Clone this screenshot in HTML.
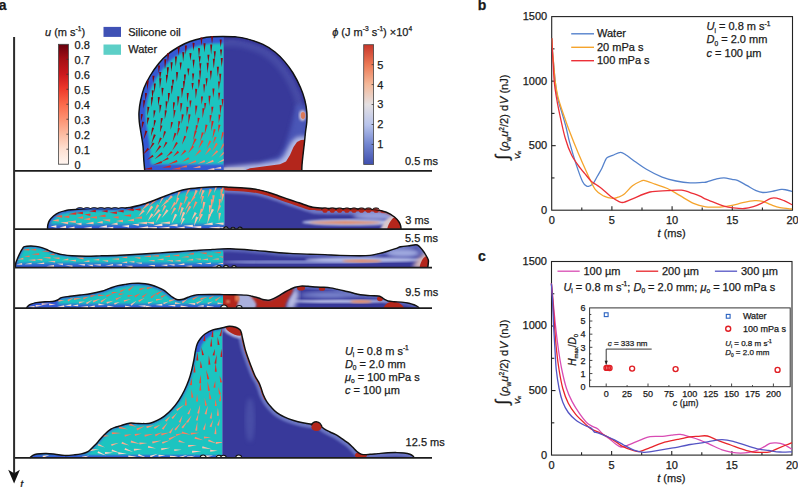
<!DOCTYPE html>
<html><head><meta charset="utf-8"><title>figure</title>
<style>
html,body{margin:0;padding:0;background:#fff;width:798px;height:487px;overflow:hidden}
svg{display:block}
text{font-family:"Liberation Sans",sans-serif;fill:#1a1a1a;stroke:#1a1a1a;stroke-width:0.25px}
</style></head><body>
<svg width="798" height="487" viewBox="0 0 798 487">
<defs><clipPath id="clipB"><rect x="551.7" y="16.6" width="240.8" height="193.6"/></clipPath></defs>
<defs>
<filter id="bl1" x="-10%" y="-10%" width="120%" height="120%"><feGaussianBlur stdDeviation="1.2"/></filter>
<filter id="bl2" x="-10%" y="-10%" width="120%" height="120%"><feGaussianBlur stdDeviation="2"/></filter>
<clipPath id="cp0"><path d="M144.8 170.9 C144.63 169.08 144.1 164.15 143.8 160 C143.5 155.85 143.47 150.5 143 146 C142.53 141.5 141.62 137 141 133 C140.38 129 139.63 125.5 139.3 122 C138.97 118.5 138.8 115.5 139 112 C139.2 108.5 139.67 105 140.5 101 C141.33 97 142.42 92.17 144 88 C145.58 83.83 147.55 80.08 150 76 C152.45 71.92 155.7 67.17 158.7 63.5 C161.7 59.83 164.4 56.92 168 54 C171.6 51.08 176.63 48.08 180.3 46 C183.97 43.92 186.42 42.8 190 41.5 C193.58 40.2 198.13 38.98 201.8 38.2 C205.47 37.42 208.47 37.1 212 36.8 C215.53 36.5 219.17 36.4 223 36.4 C226.83 36.4 231.17 36.43 235 36.8 C238.83 37.17 241.33 37.33 246 38.6 C250.67 39.87 258.17 42.17 263 44.4 C267.83 46.63 271.38 49.13 275 52 C278.62 54.87 281.7 58.1 284.7 61.6 C287.7 65.1 290.37 68.68 293 73 C295.63 77.32 298.53 83 300.5 87.5 C302.47 92 303.75 95.92 304.8 100 C305.85 104.08 306.47 108.33 306.8 112 C307.13 115.67 307.02 118.67 306.8 122 C306.58 125.33 305.88 128.67 305.5 132 C305.12 135.33 304.92 138.17 304.5 142 C304.08 145.83 303.42 151.17 303 155 C302.58 158.83 302.2 162.35 302 165 C301.8 167.65 301.83 169.92 301.8 170.9Z"/></clipPath>
<clipPath id="cl0"><rect x="0" y="0" width="223.7" height="487"/></clipPath>
<clipPath id="cr0"><rect x="223.7" y="0" width="440" height="487"/></clipPath>
<clipPath id="cp1"><path d="M47.5 229.2 C47.55 228.5 47.47 226.45 47.8 225 C48.13 223.55 48.55 222 49.5 220.5 C50.45 219 51.95 217.32 53.5 216 C55.05 214.68 56.88 213.47 58.8 212.6 C60.72 211.73 62.92 211.27 65 210.8 C67.08 210.33 67.13 210.17 71.3 209.8 C75.47 209.43 82.72 208.82 90 208.6 C97.28 208.38 108.33 208.7 115 208.5 C121.67 208.3 125.2 208.15 130 207.4 C134.8 206.65 139.2 205.4 143.8 204 C148.4 202.6 153 200.73 157.6 199 C162.2 197.27 166.83 195.18 171.4 193.6 C175.97 192.02 180.4 190.48 185 189.5 C189.6 188.52 193.22 188.17 199 187.7 C204.78 187.23 214.53 186.77 219.7 186.7 C224.87 186.63 225.95 187.08 230 187.3 C234.05 187.52 239.4 187.62 244 188 C248.6 188.38 253.6 188.9 257.6 189.6 C261.6 190.3 264.55 191.18 268 192.2 C271.45 193.22 274.8 194.48 278.3 195.7 C281.8 196.92 285.55 198.32 289 199.5 C292.45 200.68 295.03 201.5 299 202.8 C302.97 204.1 308.2 206.37 312.8 207.3 C317.4 208.23 322.07 208.18 326.6 208.4 C331.13 208.62 334.43 208.5 340 208.6 C345.57 208.7 354.17 208.83 360 209 C365.83 209.17 370.6 209.07 375 209.6 C379.4 210.13 383.15 210.97 386.4 212.2 C389.65 213.43 392.4 215.37 394.5 217 C396.6 218.63 397.97 220.5 399 222 C400.03 223.5 400.37 224.8 400.7 226 C401.03 227.2 400.95 228.67 401 229.2Z"/></clipPath>
<clipPath id="cl1"><rect x="0" y="0" width="224.5" height="487"/></clipPath>
<clipPath id="cr1"><rect x="224.5" y="0" width="440" height="487"/></clipPath>
<clipPath id="cp2"><path d="M15.3 267.6 C15.38 266.83 15.43 264.52 15.8 263 C16.17 261.48 16.8 260.17 17.5 258.5 C18.2 256.83 19.17 254.65 20 253 C20.83 251.35 21.75 249.67 22.5 248.6 C23.25 247.53 23.13 247.03 24.5 246.6 C25.87 246.17 28.78 246.03 30.7 246 C32.62 245.97 34.17 246.13 36 246.4 C37.83 246.67 39.95 247.08 41.7 247.6 C43.45 248.12 44.88 248.83 46.5 249.5 C48.12 250.17 49.65 250.95 51.4 251.6 C53.15 252.25 55.17 252.9 57 253.4 C58.83 253.9 59.9 254.22 62.4 254.6 C64.9 254.98 68.08 255.43 72 255.7 C75.92 255.97 81.28 256.17 85.9 256.2 C90.52 256.23 94.02 256.07 99.7 255.9 C105.38 255.73 112.85 255.52 120 255.2 C127.15 254.88 135.93 254.38 142.6 254 C149.27 253.62 154.15 253.28 160 252.9 C165.85 252.52 171.87 252.1 177.7 251.7 C183.53 251.3 189.15 250.88 195 250.5 C200.85 250.12 206.97 249.68 212.8 249.4 C218.63 249.12 222.97 248.63 230 248.8 C237.03 248.97 248 249.87 255 250.4 C262 250.93 266.17 251.5 272 252 C277.83 252.5 283.67 253.03 290 253.4 C296.33 253.77 304.17 254 310 254.2 C315.83 254.4 320 254.4 325 254.6 C330 254.8 334.17 255.2 340 255.4 C345.83 255.6 355 255.8 360 255.8 C365 255.8 366.87 255.77 370 255.4 C373.13 255.03 375.88 254.3 378.8 253.6 C381.72 252.9 384.58 252.07 387.5 251.2 C390.42 250.33 394.1 249.13 396.3 248.4 C398.5 247.67 398.5 247.25 400.7 246.8 C402.9 246.35 406.72 246 409.5 245.7 C412.28 245.4 415.22 244.23 417.4 245 C419.58 245.77 421.15 248.55 422.6 250.3 C424.05 252.05 425.15 253.9 426.1 255.5 C427.05 257.1 427.93 258.65 428.3 259.9 C428.67 261.15 428.38 261.72 428.3 263 C428.22 264.28 427.88 266.83 427.8 267.6Z"/></clipPath>
<clipPath id="cl2"><rect x="0" y="0" width="223.3" height="487"/></clipPath>
<clipPath id="cr2"><rect x="223.3" y="0" width="440" height="487"/></clipPath>
<clipPath id="cp3"><path d="M26.3 308.2 C26.58 307.83 27.22 306.67 28 306 C28.78 305.33 29.62 304.77 31 304.2 C32.38 303.63 33.95 303.02 36.3 302.6 C38.65 302.18 42.38 301.88 45.1 301.7 C47.82 301.52 50.52 301.78 52.6 301.5 C54.68 301.22 56.13 300.65 57.6 300 C59.07 299.35 59.32 298.22 61.4 297.6 C63.48 296.98 66.97 296.73 70.1 296.3 C73.23 295.87 76.85 295.42 80.2 295 C83.55 294.58 86.65 294.42 90.2 293.8 C93.75 293.18 98.17 292.25 101.5 291.3 C104.83 290.35 107.45 289.05 110.2 288.1 C112.95 287.15 115.53 286.22 118 285.6 C120.47 284.98 122.67 284.77 125 284.4 C127.33 284.03 129.67 283.6 132 283.4 C134.33 283.2 136.83 283.15 139 283.2 C141.17 283.25 142.93 283.4 145 283.7 C147.07 284 149.23 284.38 151.4 285 C153.57 285.62 155.95 286.53 158 287.4 C160.05 288.27 161.95 289.1 163.7 290.2 C165.45 291.3 167.03 292.83 168.5 294 C169.97 295.17 171.25 296.33 172.5 297.2 C173.75 298.07 174.83 298.77 176 299.2 C177.17 299.63 178.17 299.83 179.5 299.8 C180.83 299.77 182.55 299.43 184 299 C185.45 298.57 186.7 297.77 188.2 297.2 C189.7 296.63 191.23 296.03 193 295.6 C194.77 295.17 195.97 294.8 198.8 294.6 C201.63 294.4 205.92 294.4 210 294.4 C214.08 294.4 219.13 294.53 223.3 294.6 C227.47 294.67 231.17 294.72 235 294.8 C238.83 294.88 243.47 294.87 246.3 295.1 C249.13 295.33 249.95 295.72 252 296.2 C254.05 296.68 256.6 297.4 258.6 298 C260.6 298.6 262.27 299.43 264 299.8 C265.73 300.17 267.33 300.43 269 300.2 C270.67 299.97 272.23 299.2 274 298.4 C275.77 297.6 277.77 296.47 279.6 295.4 C281.43 294.33 283.23 293.02 285 292 C286.77 290.98 288.53 290.08 290.2 289.3 C291.87 288.52 293.25 287.83 295 287.3 C296.75 286.77 298.53 286.27 300.7 286.1 C302.87 285.93 305.37 286.15 308 286.3 C310.63 286.45 313.83 286.83 316.5 287 C319.17 287.17 321.67 287.15 324 287.3 C326.33 287.45 328.33 287.58 330.5 287.9 C332.67 288.22 334.78 288.73 337 289.2 C339.22 289.67 341.3 290.1 343.8 290.7 C346.3 291.3 349.25 292.12 352 292.8 C354.75 293.48 357.3 294.33 360.3 294.8 C363.3 295.27 367 295.4 370 295.6 C373 295.8 376.38 295.73 378.3 296 C380.22 296.27 380.47 296.65 381.5 297.2 C382.53 297.75 383.42 298.67 384.5 299.3 C385.58 299.93 386.42 300.6 388 301 C389.58 301.4 391.72 301.52 394 301.7 C396.28 301.88 399.2 301.85 401.7 302.1 C404.2 302.35 406.95 302.75 409 303.2 C411.05 303.65 412.58 304.25 414 304.8 C415.42 305.35 416.62 305.93 417.5 306.5 C418.38 307.07 419 307.92 419.3 308.2Z"/></clipPath>
<clipPath id="cl3"><rect x="0" y="0" width="223.3" height="487"/></clipPath>
<clipPath id="cr3"><rect x="223.3" y="0" width="440" height="487"/></clipPath>
<clipPath id="cp4"><path d="M29.6 457.9 C30.08 457.52 31.27 456.25 32.5 455.6 C33.73 454.95 34.72 454.35 37 454 C39.28 453.65 43.2 453.47 46.2 453.5 C49.2 453.53 51.93 453.88 55 454.2 C58.07 454.52 61.27 455.3 64.6 455.4 C67.93 455.5 72.22 455.05 75 454.8 C77.78 454.55 79.47 454.28 81.3 453.9 C83.13 453.52 84.63 453.07 86 452.5 C87.37 451.93 88.33 451.42 89.5 450.5 C90.67 449.58 91.6 448.43 93 447 C94.4 445.57 96.07 443.9 97.9 441.9 C99.73 439.9 101.85 437.12 104 435 C106.15 432.88 108.8 430.53 110.8 429.2 C112.8 427.87 114.3 427.6 116 427 C117.7 426.4 118.78 426.23 121 425.6 C123.22 424.97 126.8 423.57 129.3 423.2 C131.8 422.83 133.72 423.33 136 423.4 C138.28 423.47 140.67 423.62 143 423.6 C145.33 423.58 147.63 423.83 150 423.3 C152.37 422.77 154.8 421.6 157.2 420.4 C159.6 419.2 162 417.9 164.4 416.1 C166.8 414.3 169.2 412.23 171.6 409.6 C174 406.97 176.65 403.53 178.8 400.3 C180.95 397.07 182.83 393.57 184.5 390.2 C186.17 386.83 187.6 383.45 188.8 380.1 C190 376.75 190.85 373.45 191.7 370.1 C192.55 366.75 193.28 363.18 193.9 360 C194.52 356.82 194.85 353.67 195.4 351 C195.95 348.33 196.35 346.08 197.2 344 C198.05 341.92 199.2 340.17 200.5 338.5 C201.8 336.83 202.95 335.43 205 334 C207.05 332.57 209.85 330.93 212.8 329.9 C215.75 328.87 219.95 328.42 222.7 327.8 C225.45 327.18 227.12 326.28 229.3 326.2 C231.48 326.12 234.02 326.7 235.8 327.3 C237.58 327.9 239.07 328.85 240 329.8 C240.93 330.75 240.97 331.55 241.4 333 C241.83 334.45 241.97 335.77 242.6 338.5 C243.23 341.23 244.2 345.9 245.2 349.4 C246.2 352.9 247.47 356.3 248.6 359.5 C249.73 362.7 250.88 365.77 252 368.6 C253.12 371.43 254.18 374.25 255.3 376.5 C256.42 378.75 257.75 380.22 258.7 382.1 C259.65 383.98 260.25 385.73 261 387.8 C261.75 389.87 262.27 392.25 263.2 394.5 C264.13 396.75 265.28 399.22 266.6 401.3 C267.92 403.38 269.4 405.12 271.1 407 C272.8 408.88 274.53 410.92 276.8 412.6 C279.07 414.28 281.88 415.78 284.7 417.1 C287.52 418.42 290.68 419.55 293.7 420.5 C296.72 421.45 299.78 422.18 302.8 422.8 C305.82 423.42 309.6 423.93 311.8 424.2 C314 424.47 314.57 424.13 316 424.4 C317.43 424.67 318.97 425 320.4 425.8 C321.83 426.6 323 428.17 324.6 429.2 C326.2 430.23 328.22 431.13 330 432 C331.78 432.87 333.47 433.4 335.3 434.4 C337.13 435.4 338.88 436.58 341 438 C343.12 439.42 346.08 441.4 348 442.9 C349.92 444.4 351.07 445.62 352.5 447 C353.93 448.38 355.35 450.1 356.6 451.2 C357.85 452.3 358.85 453.03 360 453.6 C361.15 454.17 361.83 454.48 363.5 454.6 C365.17 454.72 367.58 454.47 370 454.3 C372.42 454.13 375 453.85 378 453.6 C381 453.35 384.83 452.97 388 452.8 C391.17 452.63 394.33 452.57 397 452.6 C399.67 452.63 401.83 452.73 404 453 C406.17 453.27 408.5 453.7 410 454.2 C411.5 454.7 412.3 455.38 413 456 C413.7 456.62 414 457.58 414.2 457.9Z"/></clipPath>
<clipPath id="cl4"><rect x="0" y="0" width="222.4" height="487"/></clipPath>
<clipPath id="cr4"><rect x="222.4" y="0" width="440" height="487"/></clipPath>
<linearGradient id="gReds" x1="0" y1="1" x2="0" y2="0"><stop offset="0" stop-color="#fff5f0"/><stop offset="0.125" stop-color="#fee0d2"/><stop offset="0.25" stop-color="#fcbba1"/><stop offset="0.375" stop-color="#fc9272"/><stop offset="0.5" stop-color="#fb6a4a"/><stop offset="0.625" stop-color="#ef3b2c"/><stop offset="0.75" stop-color="#cb181d"/><stop offset="0.875" stop-color="#a50f15"/><stop offset="1" stop-color="#67000d"/></linearGradient>
<linearGradient id="gCW" x1="0" y1="1" x2="0" y2="0"><stop offset="0" stop-color="#3f4fae"/><stop offset="0.17" stop-color="#7386d0"/><stop offset="0.33" stop-color="#b8c4ec"/><stop offset="0.5" stop-color="#e4e0e2"/><stop offset="0.67" stop-color="#f4b898"/><stop offset="0.83" stop-color="#ec7a56"/><stop offset="1" stop-color="#c8362a"/></linearGradient>
<linearGradient id="gBot" x1="0" y1="0" x2="0" y2="1"><stop offset="0" stop-color="#3659d4" stop-opacity="0"/><stop offset="0.6" stop-color="#3659d4" stop-opacity="0.85"/><stop offset="1" stop-color="#3659d4"/></linearGradient>
<clipPath id="cap5"><path d="M190 352 L200 352 L210 338 L214 330 L214 320 L190 320Z"/></clipPath>
<clipPath id="band2"><rect x="224" y="180" width="90" height="30"/></clipPath>
<clipPath id="flank"><rect x="238" y="330" width="30" height="70"/></clipPath>
</defs>
<g clip-path="url(#cp0)"><g clip-path="url(#cl0)">
<rect x="0" y="0" width="440" height="487" fill="#3659d4"/>
<path d="M144.8 170.9 C144.63 169.08 144.1 164.15 143.8 160 C143.5 155.85 143.47 150.5 143 146 C142.53 141.5 141.62 137 141 133 C140.38 129 139.63 125.5 139.3 122 C138.97 118.5 138.8 115.5 139 112 C139.2 108.5 139.67 105 140.5 101 C141.33 97 142.42 92.17 144 88 C145.58 83.83 147.55 80.08 150 76 C152.45 71.92 155.7 67.17 158.7 63.5 C161.7 59.83 164.4 56.92 168 54 C171.6 51.08 176.63 48.08 180.3 46 C183.97 43.92 186.42 42.8 190 41.5 C193.58 40.2 198.13 38.98 201.8 38.2 C205.47 37.42 208.47 37.1 212 36.8 C215.53 36.5 219.17 36.4 223 36.4 C226.83 36.4 231.17 36.43 235 36.8 C238.83 37.17 241.33 37.33 246 38.6 C250.67 39.87 258.17 42.17 263 44.4 C267.83 46.63 271.38 49.13 275 52 C278.62 54.87 281.7 58.1 284.7 61.6 C287.7 65.1 290.37 68.68 293 73 C295.63 77.32 298.53 83 300.5 87.5 C302.47 92 303.75 95.92 304.8 100 C305.85 104.08 306.47 108.33 306.8 112 C307.13 115.67 307.02 118.67 306.8 122 C306.58 125.33 305.88 128.67 305.5 132 C305.12 135.33 304.92 138.17 304.5 142 C304.08 145.83 303.42 151.17 303 155 C302.58 158.83 302.2 162.35 302 165 C301.8 167.65 301.83 169.92 301.8 170.9Z" fill="#1fc4c0" stroke="#3659d4" stroke-width="14" filter="url(#bl1)"/>
<rect x="0" y="165.9" width="440" height="5" fill="url(#gBot)"/>
</g></g>
<g clip-path="url(#cp0)"><g clip-path="url(#cr0)">
<rect x="0" y="0" width="440" height="487" fill="#38399a"/>
<path d="M144.8 170.9 C144.63 169.08 144.1 164.15 143.8 160 C143.5 155.85 143.47 150.5 143 146 C142.53 141.5 141.62 137 141 133 C140.38 129 139.63 125.5 139.3 122 C138.97 118.5 138.8 115.5 139 112 C139.2 108.5 139.67 105 140.5 101 C141.33 97 142.42 92.17 144 88 C145.58 83.83 147.55 80.08 150 76 C152.45 71.92 155.7 67.17 158.7 63.5 C161.7 59.83 164.4 56.92 168 54 C171.6 51.08 176.63 48.08 180.3 46 C183.97 43.92 186.42 42.8 190 41.5 C193.58 40.2 198.13 38.98 201.8 38.2 C205.47 37.42 208.47 37.1 212 36.8 C215.53 36.5 219.17 36.4 223 36.4 C226.83 36.4 231.17 36.43 235 36.8 C238.83 37.17 241.33 37.33 246 38.6 C250.67 39.87 258.17 42.17 263 44.4 C267.83 46.63 271.38 49.13 275 52 C278.62 54.87 281.7 58.1 284.7 61.6 C287.7 65.1 290.37 68.68 293 73 C295.63 77.32 298.53 83 300.5 87.5 C302.47 92 303.75 95.92 304.8 100 C305.85 104.08 306.47 108.33 306.8 112 C307.13 115.67 307.02 118.67 306.8 122 C306.58 125.33 305.88 128.67 305.5 132 C305.12 135.33 304.92 138.17 304.5 142 C304.08 145.83 303.42 151.17 303 155 C302.58 158.83 302.2 162.35 302 165 C301.8 167.65 301.83 169.92 301.8 170.9" fill="none" stroke="#6570c0" stroke-width="20" stroke-opacity="0.3" filter="url(#bl2)"/><path d="M144.8 170.9 C144.63 169.08 144.1 164.15 143.8 160 C143.5 155.85 143.47 150.5 143 146 C142.53 141.5 141.62 137 141 133 C140.38 129 139.63 125.5 139.3 122 C138.97 118.5 138.8 115.5 139 112 C139.2 108.5 139.67 105 140.5 101 C141.33 97 142.42 92.17 144 88 C145.58 83.83 147.55 80.08 150 76 C152.45 71.92 155.7 67.17 158.7 63.5 C161.7 59.83 164.4 56.92 168 54 C171.6 51.08 176.63 48.08 180.3 46 C183.97 43.92 186.42 42.8 190 41.5 C193.58 40.2 198.13 38.98 201.8 38.2 C205.47 37.42 208.47 37.1 212 36.8 C215.53 36.5 219.17 36.4 223 36.4 C226.83 36.4 231.17 36.43 235 36.8 C238.83 37.17 241.33 37.33 246 38.6 C250.67 39.87 258.17 42.17 263 44.4 C267.83 46.63 271.38 49.13 275 52 C278.62 54.87 281.7 58.1 284.7 61.6 C287.7 65.1 290.37 68.68 293 73 C295.63 77.32 298.53 83 300.5 87.5 C302.47 92 303.75 95.92 304.8 100 C305.85 104.08 306.47 108.33 306.8 112 C307.13 115.67 307.02 118.67 306.8 122 C306.58 125.33 305.88 128.67 305.5 132 C305.12 135.33 304.92 138.17 304.5 142 C304.08 145.83 303.42 151.17 303 155 C302.58 158.83 302.2 162.35 302 165 C301.8 167.65 301.83 169.92 301.8 170.9" fill="none" stroke="#38399a" stroke-width="6" filter="url(#bl1)"/><path d="M262 162 L278 157 L284 148 L290 130 L296 105 L310 105 L310 172 L262 172Z" fill="#4d5cbc" opacity="0.8" filter="url(#bl2)"/><path d="M224 167 L245 165 L265 163 L279 160.5 L284 156 L288 148 L292 141 L297 137 L308 136 L308 172 L224 172Z" fill="#b3bbe6" filter="url(#bl2)"/><rect x="223" y="167.8" width="22" height="3.5" fill="#c9c2cc" filter="url(#bl1)"/><path d="M241 172 L250 168.3 L265 166.3 L280 164.3 L286 161.5 L290 155 L293.5 147 L297 142 L301 140 L307 139.5 L307 172Z" fill="#b3261c"/><ellipse cx="302.5" cy="115.5" rx="3.5" ry="5.5" fill="#c8c0d8" filter="url(#bl1)"/><ellipse cx="303" cy="115.5" rx="2.2" ry="3.4" fill="#dc7a5a"/>
</g></g>
<g clip-path="url(#cp1)"><g clip-path="url(#cl1)">
<rect x="0" y="0" width="440" height="487" fill="#3659d4"/>
<path d="M47.5 229.2 C47.55 228.5 47.47 226.45 47.8 225 C48.13 223.55 48.55 222 49.5 220.5 C50.45 219 51.95 217.32 53.5 216 C55.05 214.68 56.88 213.47 58.8 212.6 C60.72 211.73 62.92 211.27 65 210.8 C67.08 210.33 67.13 210.17 71.3 209.8 C75.47 209.43 82.72 208.82 90 208.6 C97.28 208.38 108.33 208.7 115 208.5 C121.67 208.3 125.2 208.15 130 207.4 C134.8 206.65 139.2 205.4 143.8 204 C148.4 202.6 153 200.73 157.6 199 C162.2 197.27 166.83 195.18 171.4 193.6 C175.97 192.02 180.4 190.48 185 189.5 C189.6 188.52 193.22 188.17 199 187.7 C204.78 187.23 214.53 186.77 219.7 186.7 C224.87 186.63 225.95 187.08 230 187.3 C234.05 187.52 239.4 187.62 244 188 C248.6 188.38 253.6 188.9 257.6 189.6 C261.6 190.3 264.55 191.18 268 192.2 C271.45 193.22 274.8 194.48 278.3 195.7 C281.8 196.92 285.55 198.32 289 199.5 C292.45 200.68 295.03 201.5 299 202.8 C302.97 204.1 308.2 206.37 312.8 207.3 C317.4 208.23 322.07 208.18 326.6 208.4 C331.13 208.62 334.43 208.5 340 208.6 C345.57 208.7 354.17 208.83 360 209 C365.83 209.17 370.6 209.07 375 209.6 C379.4 210.13 383.15 210.97 386.4 212.2 C389.65 213.43 392.4 215.37 394.5 217 C396.6 218.63 397.97 220.5 399 222 C400.03 223.5 400.37 224.8 400.7 226 C401.03 227.2 400.95 228.67 401 229.2Z" fill="#1fc4c0" stroke="#3659d4" stroke-width="5" filter="url(#bl1)"/>
<rect x="0" y="222.2" width="440" height="7" fill="url(#gBot)"/>
<path d="M142.95 209.5 L144.77 211.21 L138.2 216.39 Z" fill="#fcaf93"/>
<path d="M167 199.41 L168.74 201.2 L160.61 207.34 Z" fill="#fca285"/>
<path d="M211.67 208.82 L213.95 209.85 L208.41 219.06 Z" fill="#fcc1a9"/>
<path d="M188.54 187.62 L190.78 188.73 L184.96 197.67 Z" fill="#fc8b6b"/>
<path d="M203.03 201.8 L205.49 202.24 L202.33 212.84 Z" fill="#fcaa8e"/>
<path d="M131.02 214.25 L131.08 216.75 L123.58 215.68 Z" fill="#f5533b"/>
<path d="M148.04 226.3 L148.18 228.79 L137.97 228.11 Z" fill="#fee4d8"/>
<path d="M91.77 226.7 L91.75 229.2 L83.29 227.9 Z" fill="#fee4d8"/>
<path d="M218.55 212.84 L221.04 213.1 L218.91 221.66 Z" fill="#fcad91"/>
<path d="M223.69 222.61 L223.53 225.11 L214.79 223.27 Z" fill="#fdd3c1"/>
<path d="M68.27 221.83 L68.05 224.32 L60.27 222.38 Z" fill="#fcb89e"/>
<path d="M93.48 221.72 L93.63 224.22 L85.47 223.45 Z" fill="#fcbfa6"/>
<path d="M110.28 219.31 L110.06 221.8 L102.24 219.86 Z" fill="#fc9272"/>
<path d="M177.52 224.01 L177.55 226.51 L168.81 225.36 Z" fill="#feded0"/>
<path d="M178.86 189.78 L181.18 190.72 L176.56 198.81 Z" fill="#fc997a"/>
<path d="M201.76 195.83 L204.21 196.34 L201.25 204.47 Z" fill="#fc9373"/>
<path d="M106.79 225.26 L106.98 227.75 L98.63 227.13 Z" fill="#fee4d8"/>
<path d="M82.99 216.14 L83.2 218.63 L76.55 217.95 Z" fill="#fb6d4d"/>
<path d="M218.77 199.05 L221.26 199.3 L219.07 208.37 Z" fill="#fc9171"/>
<path d="M174.23 201.86 L176.31 203.25 L170.23 210.06 Z" fill="#fc9e80"/>
<path d="M118.67 216.26 L118.51 218.76 L112.41 217.11 Z" fill="#fa6849"/>
<path d="M56.34 225.19 L56.42 227.69 L50.28 226.62 Z" fill="#fee4d8"/>
<path d="M158.56 208.98 L160.42 210.66 L151.97 218.15 Z" fill="#fcb89e"/>
<path d="M201.31 225.97 L201.21 228.47 L190.58 226.78 Z" fill="#fee4d8"/>
<path d="M196.03 216.62 L198.37 217.48 L193.76 226.39 Z" fill="#fdc7b0"/>
<path d="M141.83 216.25 L142.08 218.74 L133.63 218.31 Z" fill="#fb7c5c"/>
<path d="M212.55 222.53 L212.73 225.02 L203.06 224.48 Z" fill="#fdd6c5"/>
<path d="M133.84 208.61 L133.78 211.11 L126.28 209.68 Z" fill="#cd1a1e"/>
<path d="M182.88 211.84 L185.21 212.75 L180.13 222.27 Z" fill="#fcbfa6"/>
<path d="M208.74 213.72 L211.15 214.39 L207.15 224.13 Z" fill="#fcb99f"/>
<path d="M129.14 225.08 L128.99 227.58 L121.52 225.89 Z" fill="#fee4d7"/>
<path d="M189.19 205.68 L191.38 206.87 L185.45 215.17 Z" fill="#fc9a7b"/>
<path d="M220.54 188.95 L223.02 189.26 L220.61 198.29 Z" fill="#fc8c6c"/>
<path d="M154.08 221.63 L153.99 224.13 L145.52 222.56 Z" fill="#fcbfa6"/>
<path d="M81.6 222.84 L81.46 225.33 L75.33 223.73 Z" fill="#fdc8b3"/>
<path d="M147.58 202.48 L149.38 204.21 L140.99 211.16 Z" fill="#fc9a7b"/>
<path d="M62.29 215.16 L62.16 217.66 L55.08 216.03 Z" fill="#f5543c"/>
<path d="M218.79 204.85 L221.14 205.7 L216.88 213.8 Z" fill="#fc9a7c"/>
<path d="M201.4 184.62 L203.76 185.46 L198.8 195.58 Z" fill="#fc9475"/>
<path d="M195.5 189.79 L197.81 190.74 L192.43 200.61 Z" fill="#fca385"/>
<path d="M171 195.3 L172.81 197.01 L165.51 202.91 Z" fill="#fca386"/>
<path d="M209.64 188.77 L211.98 189.65 L207.48 198.07 Z" fill="#fc8c6c"/>
<path d="M164.19 204.96 L166.45 206.04 L161.74 212.96 Z" fill="#fca588"/>
<path d="M194.65 212.04 L196.83 213.26 L191.43 220.36 Z" fill="#fcc1a9"/>
<path d="M96.97 216.27 L96.86 218.77 L89.83 217.2 Z" fill="#fb6849"/>
<path d="M107.64 209.93 L107.57 212.43 L101.26 210.98 Z" fill="#c0151b"/>
<path d="M210.75 199.33 L213.25 199.47 L211.42 210.35 Z" fill="#fc9a7b"/>
<path d="M185.8 195.98 L188.11 196.94 L183.41 205.01 Z" fill="#fc8d6d"/>
<path d="M174.02 207.17 L176.2 208.4 L170.79 215.42 Z" fill="#fca284"/>
<path d="M200.92 208.39 L203.24 209.32 L198.13 218.74 Z" fill="#fca081"/>
<path d="M222.58 183.79 L225.01 184.37 L221.34 194.44 Z" fill="#fc8c6c"/>
<path d="M166.52 209.26 L168.54 210.74 L161.49 218.23 Z" fill="#fcbfa6"/>
<path d="M219.79 226.72 L219.7 229.22 L208.56 227.61 Z" fill="#fee4d8"/>
<path d="M76.17 212.34 L76.37 214.83 L68.17 214.24 Z" fill="#e43027"/>
<path d="M180.29 202.37 L182.63 203.23 L177.69 213.12 Z" fill="#fc9373"/>
<path d="M102.63 221.07 L102.72 223.57 L96.64 222.53 Z" fill="#fcb398"/>
<path d="M212.29 195.15 L214.78 195.26 L213.13 203.76 Z" fill="#fc997a"/>
<path d="M169.54 226.78 L169.51 229.28 L158.07 227.89 Z" fill="#fee4d8"/>
<path d="M155.34 198.32 L157.1 200.09 L148.58 206.83 Z" fill="#fc8d6d"/>
<path d="M151.15 205.59 L153.21 207 L145.71 215.72 Z" fill="#fcb499"/>
<path d="M138.94 223.64 L138.7 226.12 L131.9 224.24 Z" fill="#fdd3c1"/>
<path d="M195.18 201.17 L197.48 202.17 L192.7 209.99 Z" fill="#fc8d6d"/>
<path d="M82.9 211.64 L82.96 214.13 L75.58 213.05 Z" fill="#d82422"/>
<path d="M90.47 213.62 L90.28 216.12 L84.22 214.4 Z" fill="#ee3a2b"/>
<path d="M116.94 211.52 L116.89 214.02 L109.53 212.64 Z" fill="#d42121"/>
<path d="M184.64 226.49 L184.69 228.99 L176 227.92 Z" fill="#fee4d8"/>
<path d="M169.94 221.59 L169.97 224.09 L159.9 222.95 Z" fill="#fcc4ad"/>
<path d="M159.33 213.4 L161.52 214.6 L155.78 222.51 Z" fill="#fcb79c"/>
<path d="M95.82 209.8 L95.89 212.3 L89 211.23 Z" fill="#c0151b"/>
<path d="M123.66 209.91 L123.58 212.41 L117.07 210.97 Z" fill="#c5161c"/>
<path d="M192.9 224.79 L192.84 227.29 L183.29 225.78 Z" fill="#fee3d6"/>
<path d="M177.01 197.31 L179.37 198.13 L175.51 205.47 Z" fill="#fca285"/>
<path d="M117.47 222.48 L117.67 224.97 L110.98 224.26 Z" fill="#fdc9b4"/>
<path d="M105.48 214.51 L105.65 217.01 L98.07 216.25 Z" fill="#f5513a"/>
<path d="M174.94 213.67 L177.2 214.73 L171.57 223.77 Z" fill="#fcc4ad"/>
<path d="M58.61 218.9 L58.85 221.39 L52.12 220.79 Z" fill="#fc9677"/>
<path d="M65.99 225.78 L66.16 228.28 L59.39 227.49 Z" fill="#fee4d8"/>
<path d="M133.84 218.73 L134.04 221.22 L127.05 220.52 Z" fill="#fc9979"/>
<path d="M215.59 184.61 L217.95 185.42 L214.07 192.9 Z" fill="#fcaa8e"/>
<path d="M221.87 193.61 L224.33 194.05 L221.4 203.39 Z" fill="#fca487"/>
<path d="M140.61 208.14 L140.61 210.64 L133.98 209.39 Z" fill="#d31f20"/>
<path d="M182.71 217.77 L184.99 218.79 L180.58 225.6 Z" fill="#fcc4ac"/>
<path d="M151.38 213.33 L153.45 214.73 L147.75 220.93 Z" fill="#fcbaa0"/>
<path d="M75.79 220.38 L75.82 222.88 L67.26 221.71 Z" fill="#fca88b"/>
<path d="M181.51 207.12 L183.88 207.91 L179.53 217.01 Z" fill="#fcb296"/>
<path d="M74.51 226.6 L74.6 229.1 L67.17 228.13 Z" fill="#fee4d8"/>
<path d="M157.11 204.23 L159.29 205.46 L153.52 213.21 Z" fill="#fc9b7d"/>
<path d="M193.39 195.67 L195.49 197.02 L189.79 203.54 Z" fill="#fc8f6f"/>
<path d="M162.89 194.35 L165.13 195.46 L159.22 204.53 Z" fill="#fca78a"/>
<path d="M90.12 217.72 L90.2 220.22 L83.62 219.19 Z" fill="#fc8262"/>
<path d="M162.24 223.61 L162.46 226.1 L153.13 225.67 Z" fill="#feddce"/>
<path d="M200.68 213.51 L203 214.45 L198.45 222.42 Z" fill="#fcaf93"/>
<path d="M156.92 227.05 L156.77 229.54 L145.46 227.6 Z" fill="#fee4d8"/>
<path d="M69.24 215.51 L69.29 218.01 L62.8 216.88 Z" fill="#f85f43"/>
<path d="M208.84 205.15 L211.33 205.35 L209.41 213.98 Z" fill="#fcaa8e"/>
<path d="M113.29 226.71 L113.25 229.21 L106.42 227.84 Z" fill="#fee4d8"/>
<path d="M188.75 201.23 L190.92 202.47 L184.82 210.59 Z" fill="#fc9879"/>
<path d="M122.97 219.87 L122.89 222.37 L115.86 220.88 Z" fill="#fca082"/>
<path d="M202.47 189.79 L204.79 190.73 L200.03 199.15 Z" fill="#fca88c"/>
<path d="M146.99 221.66 L147.01 224.16 L137.41 222.99 Z" fill="#fcc0a8"/>
<path d="M228.07 226.8 L227.94 229.29 L217.86 227.51 Z" fill="#fee4d8"/>
</g></g>
<g clip-path="url(#cp1)"><g clip-path="url(#cr1)">
<rect x="0" y="0" width="440" height="487" fill="#38399a"/>
<path d="M47.5 229.2 C47.55 228.5 47.47 226.45 47.8 225 C48.13 223.55 48.55 222 49.5 220.5 C50.45 219 51.95 217.32 53.5 216 C55.05 214.68 56.88 213.47 58.8 212.6 C60.72 211.73 62.92 211.27 65 210.8 C67.08 210.33 67.13 210.17 71.3 209.8 C75.47 209.43 82.72 208.82 90 208.6 C97.28 208.38 108.33 208.7 115 208.5 C121.67 208.3 125.2 208.15 130 207.4 C134.8 206.65 139.2 205.4 143.8 204 C148.4 202.6 153 200.73 157.6 199 C162.2 197.27 166.83 195.18 171.4 193.6 C175.97 192.02 180.4 190.48 185 189.5 C189.6 188.52 193.22 188.17 199 187.7 C204.78 187.23 214.53 186.77 219.7 186.7 C224.87 186.63 225.95 187.08 230 187.3 C234.05 187.52 239.4 187.62 244 188 C248.6 188.38 253.6 188.9 257.6 189.6 C261.6 190.3 264.55 191.18 268 192.2 C271.45 193.22 274.8 194.48 278.3 195.7 C281.8 196.92 285.55 198.32 289 199.5 C292.45 200.68 295.03 201.5 299 202.8 C302.97 204.1 308.2 206.37 312.8 207.3 C317.4 208.23 322.07 208.18 326.6 208.4 C331.13 208.62 334.43 208.5 340 208.6 C345.57 208.7 354.17 208.83 360 209 C365.83 209.17 370.6 209.07 375 209.6 C379.4 210.13 383.15 210.97 386.4 212.2 C389.65 213.43 392.4 215.37 394.5 217 C396.6 218.63 397.97 220.5 399 222 C400.03 223.5 400.37 224.8 400.7 226 C401.03 227.2 400.95 228.67 401 229.2" fill="none" stroke="#7a84cc" stroke-width="12" stroke-opacity="0.8" filter="url(#bl1)"/><path d="M47.5 229.2 C47.55 228.5 47.47 226.45 47.8 225 C48.13 223.55 48.55 222 49.5 220.5 C50.45 219 51.95 217.32 53.5 216 C55.05 214.68 56.88 213.47 58.8 212.6 C60.72 211.73 62.92 211.27 65 210.8 C67.08 210.33 67.13 210.17 71.3 209.8 C75.47 209.43 82.72 208.82 90 208.6 C97.28 208.38 108.33 208.7 115 208.5 C121.67 208.3 125.2 208.15 130 207.4 C134.8 206.65 139.2 205.4 143.8 204 C148.4 202.6 153 200.73 157.6 199 C162.2 197.27 166.83 195.18 171.4 193.6 C175.97 192.02 180.4 190.48 185 189.5 C189.6 188.52 193.22 188.17 199 187.7 C204.78 187.23 214.53 186.77 219.7 186.7 C224.87 186.63 225.95 187.08 230 187.3 C234.05 187.52 239.4 187.62 244 188 C248.6 188.38 253.6 188.9 257.6 189.6 C261.6 190.3 264.55 191.18 268 192.2 C271.45 193.22 274.8 194.48 278.3 195.7 C281.8 196.92 285.55 198.32 289 199.5 C292.45 200.68 295.03 201.5 299 202.8 C302.97 204.1 308.2 206.37 312.8 207.3 C317.4 208.23 322.07 208.18 326.6 208.4 C331.13 208.62 334.43 208.5 340 208.6 C345.57 208.7 354.17 208.83 360 209 C365.83 209.17 370.6 209.07 375 209.6 C379.4 210.13 383.15 210.97 386.4 212.2 C389.65 213.43 392.4 215.37 394.5 217 C396.6 218.63 397.97 220.5 399 222 C400.03 223.5 400.37 224.8 400.7 226 C401.03 227.2 400.95 228.67 401 229.2" fill="none" stroke="#b3261c" stroke-width="5"/><g clip-path="url(#band2)"><path d="M47.5 229.2 C47.55 228.5 47.47 226.45 47.8 225 C48.13 223.55 48.55 222 49.5 220.5 C50.45 219 51.95 217.32 53.5 216 C55.05 214.68 56.88 213.47 58.8 212.6 C60.72 211.73 62.92 211.27 65 210.8 C67.08 210.33 67.13 210.17 71.3 209.8 C75.47 209.43 82.72 208.82 90 208.6 C97.28 208.38 108.33 208.7 115 208.5 C121.67 208.3 125.2 208.15 130 207.4 C134.8 206.65 139.2 205.4 143.8 204 C148.4 202.6 153 200.73 157.6 199 C162.2 197.27 166.83 195.18 171.4 193.6 C175.97 192.02 180.4 190.48 185 189.5 C189.6 188.52 193.22 188.17 199 187.7 C204.78 187.23 214.53 186.77 219.7 186.7 C224.87 186.63 225.95 187.08 230 187.3 C234.05 187.52 239.4 187.62 244 188 C248.6 188.38 253.6 188.9 257.6 189.6 C261.6 190.3 264.55 191.18 268 192.2 C271.45 193.22 274.8 194.48 278.3 195.7 C281.8 196.92 285.55 198.32 289 199.5 C292.45 200.68 295.03 201.5 299 202.8 C302.97 204.1 308.2 206.37 312.8 207.3 C317.4 208.23 322.07 208.18 326.6 208.4 C331.13 208.62 334.43 208.5 340 208.6 C345.57 208.7 354.17 208.83 360 209 C365.83 209.17 370.6 209.07 375 209.6 C379.4 210.13 383.15 210.97 386.4 212.2 C389.65 213.43 392.4 215.37 394.5 217 C396.6 218.63 397.97 220.5 399 222 C400.03 223.5 400.37 224.8 400.7 226 C401.03 227.2 400.95 228.67 401 229.2" fill="none" stroke="#b3261c" stroke-width="7"/></g><ellipse cx="350" cy="222.3" rx="48" ry="3.4" fill="#b4bbe4" filter="url(#bl1)"/><ellipse cx="345" cy="222.5" rx="36" ry="1.4" fill="#e58a66" filter="url(#bl1)"/><ellipse cx="375" cy="216" rx="22" ry="4" fill="#9aa2dc" filter="url(#bl2)"/><path d="M380 230 C383 222 388 217 394 215 L402 213 L402 230Z" fill="#d8c8cc" filter="url(#bl1)"/><path d="M387 230 C388 224 391 219 396 216 L402 214 L402 230Z" fill="#b3261c"/><circle cx="325" cy="210.2" r="2.6" fill="#b3261c"/><circle cx="332.3" cy="210.2" r="2.6" fill="#b3261c"/><circle cx="339.6" cy="210.2" r="2.6" fill="#b3261c"/><circle cx="346.9" cy="210.2" r="2.6" fill="#b3261c"/><circle cx="354" cy="210.2" r="2.6" fill="#b3261c"/><circle cx="361.5" cy="210.2" r="2.6" fill="#b3261c"/><circle cx="368.5" cy="210.2" r="2.6" fill="#b3261c"/><circle cx="376" cy="210.2" r="2.6" fill="#b3261c"/><circle cx="383" cy="210.2" r="2.6" fill="#b3261c"/>
</g></g>
<g clip-path="url(#cp2)"><g clip-path="url(#cl2)">
<rect x="0" y="0" width="440" height="487" fill="#3659d4"/>
<path d="M15.3 267.6 C15.38 266.83 15.43 264.52 15.8 263 C16.17 261.48 16.8 260.17 17.5 258.5 C18.2 256.83 19.17 254.65 20 253 C20.83 251.35 21.75 249.67 22.5 248.6 C23.25 247.53 23.13 247.03 24.5 246.6 C25.87 246.17 28.78 246.03 30.7 246 C32.62 245.97 34.17 246.13 36 246.4 C37.83 246.67 39.95 247.08 41.7 247.6 C43.45 248.12 44.88 248.83 46.5 249.5 C48.12 250.17 49.65 250.95 51.4 251.6 C53.15 252.25 55.17 252.9 57 253.4 C58.83 253.9 59.9 254.22 62.4 254.6 C64.9 254.98 68.08 255.43 72 255.7 C75.92 255.97 81.28 256.17 85.9 256.2 C90.52 256.23 94.02 256.07 99.7 255.9 C105.38 255.73 112.85 255.52 120 255.2 C127.15 254.88 135.93 254.38 142.6 254 C149.27 253.62 154.15 253.28 160 252.9 C165.85 252.52 171.87 252.1 177.7 251.7 C183.53 251.3 189.15 250.88 195 250.5 C200.85 250.12 206.97 249.68 212.8 249.4 C218.63 249.12 222.97 248.63 230 248.8 C237.03 248.97 248 249.87 255 250.4 C262 250.93 266.17 251.5 272 252 C277.83 252.5 283.67 253.03 290 253.4 C296.33 253.77 304.17 254 310 254.2 C315.83 254.4 320 254.4 325 254.6 C330 254.8 334.17 255.2 340 255.4 C345.83 255.6 355 255.8 360 255.8 C365 255.8 366.87 255.77 370 255.4 C373.13 255.03 375.88 254.3 378.8 253.6 C381.72 252.9 384.58 252.07 387.5 251.2 C390.42 250.33 394.1 249.13 396.3 248.4 C398.5 247.67 398.5 247.25 400.7 246.8 C402.9 246.35 406.72 246 409.5 245.7 C412.28 245.4 415.22 244.23 417.4 245 C419.58 245.77 421.15 248.55 422.6 250.3 C424.05 252.05 425.15 253.9 426.1 255.5 C427.05 257.1 427.93 258.65 428.3 259.9 C428.67 261.15 428.38 261.72 428.3 263 C428.22 264.28 427.88 266.83 427.8 267.6Z" fill="#1fc4c0" stroke="#3659d4" stroke-width="3" filter="url(#bl1)"/>
<rect x="0" y="261.1" width="440" height="6.5" fill="url(#gBot)"/>
<path d="M29.63 255.53 L29.57 257.23 L23.95 256.17 Z" fill="#fb7656"/>
<path d="M184.27 263.24 L184.52 264.92 L177.28 265.11 Z" fill="#fed9c8"/>
<path d="M84.9 264.02 L84.82 265.72 L77.76 264.53 Z" fill="#fed9c8"/>
<path d="M150.88 255.5 L150.86 257.2 L143.2 256.25 Z" fill="#fb7656"/>
<path d="M167.45 264.46 L167.38 266.15 L160.74 265.03 Z" fill="#fed9c8"/>
<path d="M54.02 264.93 L54.12 266.63 L46.09 266.25 Z" fill="#fed9c8"/>
<path d="M44.12 262.43 L44.28 264.12 L36.33 264 Z" fill="#fdceba"/>
<path d="M210.8 262.42 L211.03 264.1 L204.67 264.1 Z" fill="#fdcebb"/>
<path d="M206.75 252.48 L206.59 254.17 L199.32 252.66 Z" fill="#f96144"/>
<path d="M99.22 258.72 L99.31 260.42 L92.9 259.91 Z" fill="#fca082"/>
<path d="M220.74 251.66 L220.82 253.35 L213.11 252.9 Z" fill="#f96144"/>
<path d="M55.19 260.93 L55.09 262.62 L47.73 261.33 Z" fill="#fcb69c"/>
<path d="M141.91 262.4 L141.75 264.09 L135.71 262.68 Z" fill="#fdc6b0"/>
<path d="M188.6 255.88 L188.69 257.58 L180.98 257.15 Z" fill="#fc7e5e"/>
<path d="M173.05 260.16 L172.84 261.84 L166.4 260.2 Z" fill="#fcab8e"/>
<path d="M140.46 257.37 L140.28 259.06 L134 257.52 Z" fill="#fc8969"/>
<path d="M127.22 261.53 L127.18 263.23 L121.42 262.26 Z" fill="#fcbfa7"/>
<path d="M22.06 263.12 L22.19 264.81 L16.06 264.44 Z" fill="#fdd4c2"/>
<path d="M49.04 250.09 L49.14 251.79 L41.37 251.4 Z" fill="#f96144"/>
<path d="M154.99 264.98 L154.81 266.67 L148 265.09 Z" fill="#fed9c8"/>
<path d="M108.16 260.22 L108.01 261.91 L101.9 260.52 Z" fill="#fcad91"/>
<path d="M119.09 258.36 L119.03 260.06 L111.32 258.91 Z" fill="#fc9878"/>
<path d="M39.08 253.22 L39.12 254.92 L31.31 254.24 Z" fill="#f96144"/>
<path d="M225.22 256.61 L225 258.29 L218.49 256.58 Z" fill="#fc7f5f"/>
<path d="M89.36 260.25 L89.45 261.95 L83.19 261.41 Z" fill="#fcb397"/>
<path d="M201.95 262.89 L201.74 264.58 L196.09 263.05 Z" fill="#fdcbb6"/>
<path d="M154.57 259.88 L154.48 261.58 L148.16 260.42 Z" fill="#fcaa8e"/>
<path d="M23.25 257.84 L23.46 259.53 L17.69 259.38 Z" fill="#fc9778"/>
<path d="M224.73 262.55 L224.73 264.25 L217.37 263.39 Z" fill="#fdcbb7"/>
<path d="M163.5 258.61 L163.59 260.31 L156.86 259.82 Z" fill="#fc9f81"/>
<path d="M72.56 265.4 L72.36 267.09 L64.85 265.35 Z" fill="#fed9c8"/>
<path d="M200.89 258.42 L200.72 260.12 L194.89 258.67 Z" fill="#fc9777"/>
<path d="M212.54 255.46 L212.37 257.16 L205.68 255.64 Z" fill="#fb7252"/>
<path d="M59.6 257.49 L59.46 259.19 L52.4 257.76 Z" fill="#fc8b6b"/>
<path d="M193.09 258.77 L193.23 260.46 L186.6 260.16 Z" fill="#fca284"/>
<path d="M31.51 262.66 L31.68 264.35 L24.51 264.22 Z" fill="#fdd0bd"/>
<path d="M112.93 263.9 L113.18 265.58 L105.11 265.93 Z" fill="#fed9c8"/>
<path d="M63.06 263.58 L62.85 265.26 L56.99 263.65 Z" fill="#fdd2c0"/>
<path d="M75.94 259.84 L75.89 261.54 L68.86 260.52 Z" fill="#fcab8e"/>
<path d="M50.54 257.07 L50.46 258.77 L42.53 257.55 Z" fill="#fc8868"/>
<path d="M29.26 248.86 L29.32 250.56 L21.86 249.98 Z" fill="#f96144"/>
<path d="M179.21 254.53 L179.32 256.22 L172.19 255.82 Z" fill="#fb6e4e"/>
<path d="M127.24 256.6 L127.31 258.29 L121.27 257.68 Z" fill="#fc8666"/>
<path d="M193.72 252.85 L193.94 254.53 L186.71 254.62 Z" fill="#f96144"/>
<path d="M92.95 264.76 L92.73 266.45 L86.96 264.82 Z" fill="#fed9c8"/>
<path d="M174.61 264.18 L174.48 265.87 L167.89 264.52 Z" fill="#fed9c8"/>
<path d="M83.61 257.81 L83.37 259.5 L75.97 257.58 Z" fill="#fc8c6c"/>
<path d="M68.2 258.5 L68.45 260.18 L61.96 260.27 Z" fill="#fca183"/>
<path d="M100.84 264.14 L100.77 265.84 L93.41 264.68 Z" fill="#fed9c8"/>
<path d="M218.72 258.13 L218.81 259.83 L211.85 259.35 Z" fill="#fc997a"/>
<path d="M169.92 255.19 L170.11 256.88 L163.89 256.74 Z" fill="#fb7757"/>
<path d="M42.48 258.98 L42.28 260.67 L35.75 259.04 Z" fill="#fc9c7e"/>
<path d="M121.91 263.93 L121.98 265.63 L115.45 265.06 Z" fill="#fed9c8"/>
<path d="M54.56 253.6 L54.49 255.29 L48.92 254.21 Z" fill="#f96144"/>
<path d="M35.46 259.26 L35.42 260.96 L27.74 259.94 Z" fill="#fca486"/>
<path d="M192.24 265.51 L192.14 267.21 L184.61 265.93 Z" fill="#fed9c8"/>
<path d="M36.07 248.69 L36.2 250.39 L29.81 250.01 Z" fill="#f96144"/>
<path d="M207.97 258.62 L207.98 260.32 L201.77 259.5 Z" fill="#fc9d7f"/>
<path d="M180.57 259.72 L180.69 261.41 L174.35 261.01 Z" fill="#fcad91"/>
<path d="M132.6 265.85 L132.42 267.54 L124.86 265.87 Z" fill="#fed9c8"/>
<path d="M134.44 261.04 L134.36 262.74 L128.73 261.63 Z" fill="#fcb99f"/>
<path d="M219.28 264.75 L219.48 266.44 L211.9 266.49 Z" fill="#fed9c8"/>
<path d="M158.74 255.05 L158.77 256.75 L151.04 256.04 Z" fill="#fb7252"/>
</g></g>
<g clip-path="url(#cp2)"><g clip-path="url(#cr2)">
<rect x="0" y="0" width="440" height="487" fill="#38399a"/>
<path d="M15.3 267.6 C15.38 266.83 15.43 264.52 15.8 263 C16.17 261.48 16.8 260.17 17.5 258.5 C18.2 256.83 19.17 254.65 20 253 C20.83 251.35 21.75 249.67 22.5 248.6 C23.25 247.53 23.13 247.03 24.5 246.6 C25.87 246.17 28.78 246.03 30.7 246 C32.62 245.97 34.17 246.13 36 246.4 C37.83 246.67 39.95 247.08 41.7 247.6 C43.45 248.12 44.88 248.83 46.5 249.5 C48.12 250.17 49.65 250.95 51.4 251.6 C53.15 252.25 55.17 252.9 57 253.4 C58.83 253.9 59.9 254.22 62.4 254.6 C64.9 254.98 68.08 255.43 72 255.7 C75.92 255.97 81.28 256.17 85.9 256.2 C90.52 256.23 94.02 256.07 99.7 255.9 C105.38 255.73 112.85 255.52 120 255.2 C127.15 254.88 135.93 254.38 142.6 254 C149.27 253.62 154.15 253.28 160 252.9 C165.85 252.52 171.87 252.1 177.7 251.7 C183.53 251.3 189.15 250.88 195 250.5 C200.85 250.12 206.97 249.68 212.8 249.4 C218.63 249.12 222.97 248.63 230 248.8 C237.03 248.97 248 249.87 255 250.4 C262 250.93 266.17 251.5 272 252 C277.83 252.5 283.67 253.03 290 253.4 C296.33 253.77 304.17 254 310 254.2 C315.83 254.4 320 254.4 325 254.6 C330 254.8 334.17 255.2 340 255.4 C345.83 255.6 355 255.8 360 255.8 C365 255.8 366.87 255.77 370 255.4 C373.13 255.03 375.88 254.3 378.8 253.6 C381.72 252.9 384.58 252.07 387.5 251.2 C390.42 250.33 394.1 249.13 396.3 248.4 C398.5 247.67 398.5 247.25 400.7 246.8 C402.9 246.35 406.72 246 409.5 245.7 C412.28 245.4 415.22 244.23 417.4 245 C419.58 245.77 421.15 248.55 422.6 250.3 C424.05 252.05 425.15 253.9 426.1 255.5 C427.05 257.1 427.93 258.65 428.3 259.9 C428.67 261.15 428.38 261.72 428.3 263 C428.22 264.28 427.88 266.83 427.8 267.6" fill="none" stroke="#5a64b8" stroke-width="6" filter="url(#bl1)"/><ellipse cx="300" cy="262" rx="80" ry="1.6" fill="#8892d2" filter="url(#bl1)"/><ellipse cx="365" cy="259.8" rx="60" ry="2.6" fill="#b0b8e4" filter="url(#bl1)"/><ellipse cx="362" cy="261" rx="20" ry="1.4" fill="#e58a66" filter="url(#bl1)"/><ellipse cx="403" cy="253" rx="17" ry="4.5" fill="#a0aae0" filter="url(#bl2)"/><path d="M412 268 C414 264 417 260 420 257 C422 255 424 253 426 252 L430 252 L430 268Z" fill="#d8b8b8" filter="url(#bl2)"/><path d="M419.5 268 C420 264 421.5 260.5 423.5 258 C425 256.5 426.5 255.5 428 255 L430 255 L430 268Z" fill="#b3261c"/>
</g></g>
<g clip-path="url(#cp3)"><g clip-path="url(#cl3)">
<rect x="0" y="0" width="440" height="487" fill="#3659d4"/>
<path d="M26.3 308.2 C26.58 307.83 27.22 306.67 28 306 C28.78 305.33 29.62 304.77 31 304.2 C32.38 303.63 33.95 303.02 36.3 302.6 C38.65 302.18 42.38 301.88 45.1 301.7 C47.82 301.52 50.52 301.78 52.6 301.5 C54.68 301.22 56.13 300.65 57.6 300 C59.07 299.35 59.32 298.22 61.4 297.6 C63.48 296.98 66.97 296.73 70.1 296.3 C73.23 295.87 76.85 295.42 80.2 295 C83.55 294.58 86.65 294.42 90.2 293.8 C93.75 293.18 98.17 292.25 101.5 291.3 C104.83 290.35 107.45 289.05 110.2 288.1 C112.95 287.15 115.53 286.22 118 285.6 C120.47 284.98 122.67 284.77 125 284.4 C127.33 284.03 129.67 283.6 132 283.4 C134.33 283.2 136.83 283.15 139 283.2 C141.17 283.25 142.93 283.4 145 283.7 C147.07 284 149.23 284.38 151.4 285 C153.57 285.62 155.95 286.53 158 287.4 C160.05 288.27 161.95 289.1 163.7 290.2 C165.45 291.3 167.03 292.83 168.5 294 C169.97 295.17 171.25 296.33 172.5 297.2 C173.75 298.07 174.83 298.77 176 299.2 C177.17 299.63 178.17 299.83 179.5 299.8 C180.83 299.77 182.55 299.43 184 299 C185.45 298.57 186.7 297.77 188.2 297.2 C189.7 296.63 191.23 296.03 193 295.6 C194.77 295.17 195.97 294.8 198.8 294.6 C201.63 294.4 205.92 294.4 210 294.4 C214.08 294.4 219.13 294.53 223.3 294.6 C227.47 294.67 231.17 294.72 235 294.8 C238.83 294.88 243.47 294.87 246.3 295.1 C249.13 295.33 249.95 295.72 252 296.2 C254.05 296.68 256.6 297.4 258.6 298 C260.6 298.6 262.27 299.43 264 299.8 C265.73 300.17 267.33 300.43 269 300.2 C270.67 299.97 272.23 299.2 274 298.4 C275.77 297.6 277.77 296.47 279.6 295.4 C281.43 294.33 283.23 293.02 285 292 C286.77 290.98 288.53 290.08 290.2 289.3 C291.87 288.52 293.25 287.83 295 287.3 C296.75 286.77 298.53 286.27 300.7 286.1 C302.87 285.93 305.37 286.15 308 286.3 C310.63 286.45 313.83 286.83 316.5 287 C319.17 287.17 321.67 287.15 324 287.3 C326.33 287.45 328.33 287.58 330.5 287.9 C332.67 288.22 334.78 288.73 337 289.2 C339.22 289.67 341.3 290.1 343.8 290.7 C346.3 291.3 349.25 292.12 352 292.8 C354.75 293.48 357.3 294.33 360.3 294.8 C363.3 295.27 367 295.4 370 295.6 C373 295.8 376.38 295.73 378.3 296 C380.22 296.27 380.47 296.65 381.5 297.2 C382.53 297.75 383.42 298.67 384.5 299.3 C385.58 299.93 386.42 300.6 388 301 C389.58 301.4 391.72 301.52 394 301.7 C396.28 301.88 399.2 301.85 401.7 302.1 C404.2 302.35 406.95 302.75 409 303.2 C411.05 303.65 412.58 304.25 414 304.8 C415.42 305.35 416.62 305.93 417.5 306.5 C418.38 307.07 419 307.92 419.3 308.2Z" fill="#1fc4c0" stroke="#3659d4" stroke-width="4" filter="url(#bl1)"/>
<rect x="20" y="295" width="38" height="15" fill="#3659d4" filter="url(#bl1)"/>
<rect x="0" y="302.2" width="440" height="6" fill="url(#gBot)"/>
<path d="M93.42 302.48 L92.74 300.82 L100.49 298.63 Z" fill="#fc9a7b"/>
<path d="M195.24 303.1 L195.1 304.9 L187.93 303.43 Z" fill="#fdccb8"/>
<path d="M71.26 304.36 L71.36 306.16 L64.69 305.6 Z" fill="#fee0d2"/>
<path d="M151.65 298.37 L150.49 296.99 L157.08 292.65 Z" fill="#f96144"/>
<path d="M200.82 300.06 L200.24 298.35 L207.75 296.78 Z" fill="#fb7c5c"/>
<path d="M203.67 305.03 L203.73 306.83 L197.12 306.14 Z" fill="#fee0d2"/>
<path d="M120.72 292.27 L119.89 290.67 L126.66 288.18 Z" fill="#f96144"/>
<path d="M135.32 297.38 L134.42 295.83 L140.52 293.31 Z" fill="#f96144"/>
<path d="M90.69 297.19 L90.31 295.43 L96.3 295.07 Z" fill="#f96144"/>
<path d="M161.7 297.75 L160.89 296.14 L166.74 294.2 Z" fill="#f96144"/>
<path d="M127.84 297.07 L127.49 295.3 L133.69 295 Z" fill="#f96144"/>
<path d="M79.1 303.52 L78.78 301.75 L84.96 301.53 Z" fill="#fcb79c"/>
<path d="M106.73 296.95 L106.05 295.28 L112.32 293.69 Z" fill="#f96144"/>
<path d="M124.2 301.86 L123.72 300.13 L131.19 299.02 Z" fill="#fc9879"/>
<path d="M131.57 305.76 L130.47 304.34 L136.59 300.7 Z" fill="#fcc1aa"/>
<path d="M182.82 303.35 L181.81 301.86 L187.86 298.85 Z" fill="#fca385"/>
<path d="M94.72 305.48 L94.78 307.28 L88.65 306.57 Z" fill="#fee0d2"/>
<path d="M35.72 306.68 L35.67 304.88 L43.04 305.55 Z" fill="#fee0d2"/>
<path d="M147.07 289.26 L146.64 287.51 L153.86 286.67 Z" fill="#f96144"/>
<path d="M148.31 303.93 L147.78 302.21 L153.54 301.38 Z" fill="#fcb99e"/>
<path d="M125.07 307.54 L125.02 305.74 L131.05 306.48 Z" fill="#fee0d2"/>
<path d="M49.05 305.22 L49.15 303.42 L55.75 304.72 Z" fill="#fed7c6"/>
<path d="M83.68 299.55 L83.05 297.87 L88.93 296.61 Z" fill="#fb7757"/>
<path d="M193.11 299.99 L192.27 298.4 L199.26 295.72 Z" fill="#fb7454"/>
<path d="M107 303.74 L106.47 302.02 L113.5 300.83 Z" fill="#fcb398"/>
<path d="M169.44 301.67 L169.03 299.92 L176.93 298.98 Z" fill="#fc9777"/>
<path d="M98.35 305.36 L98.51 303.57 L105.05 305.06 Z" fill="#fedaca"/>
<path d="M98.27 296.3 L98.21 294.5 L105.6 295.14 Z" fill="#f96144"/>
<path d="M215.97 301.23 L214.91 299.77 L221.18 296.34 Z" fill="#fc8262"/>
<path d="M162.22 303.86 L162.29 305.66 L155.17 305.06 Z" fill="#fedccd"/>
<path d="M118.87 295.25 L118.68 293.46 L124.59 293.74 Z" fill="#f96144"/>
<path d="M217.6 304.26 L217.54 302.46 L223.79 303.16 Z" fill="#fdc6b0"/>
<path d="M180.59 307.27 L180.66 305.47 L188.67 306.71 Z" fill="#fee0d2"/>
<path d="M139.06 302.02 L138.21 300.43 L145.06 297.8 Z" fill="#fc9171"/>
<path d="M145.82 307.45 L145.69 305.66 L152.11 306.1 Z" fill="#fee0d2"/>
<path d="M163.77 304.35 L163.16 302.66 L168.84 301.58 Z" fill="#fcbda4"/>
<path d="M64.19 305.14 L64.35 306.93 L57.15 306.7 Z" fill="#fee0d2"/>
<path d="M114.71 304.63 L114.12 302.93 L119.82 301.92 Z" fill="#fcc1a9"/>
<path d="M68.17 301.4 L67.39 299.78 L74.13 297.55 Z" fill="#fc8b6b"/>
<path d="M208.08 304.34 L207.42 302.67 L213.06 301.41 Z" fill="#fcbca2"/>
<path d="M157.18 295.04 L156.18 293.54 L163.27 289.88 Z" fill="#f96144"/>
<path d="M139.77 290.42 L139.2 288.71 L145.91 287.42 Z" fill="#f96144"/>
<path d="M142.97 297.84 L141.84 296.44 L147.84 292.73 Z" fill="#f96144"/>
<path d="M175.31 304.74 L175.25 306.54 L167.57 305.38 Z" fill="#fee0d2"/>
<path d="M86.93 304.27 L86 302.72 L92.58 299.82 Z" fill="#fcb095"/>
<path d="M78.07 304.44 L78.22 306.23 L71.99 305.85 Z" fill="#fee0d2"/>
<path d="M58.35 301.78 L58.21 299.99 L64.62 300.36 Z" fill="#fca184"/>
<path d="M129.12 290.94 L127.98 289.55 L134.52 285.29 Z" fill="#f96144"/>
<path d="M206.79 307.54 L206.84 305.74 L214.48 306.87 Z" fill="#fee0d2"/>
<path d="M116.25 300.23 L115.49 298.6 L121.86 296.62 Z" fill="#fb7c5c"/>
<path d="M145.56 305.16 L145.52 306.96 L138 305.87 Z" fill="#fee0d2"/>
<path d="M156.14 300.68 L155.89 298.9 L163.52 298.74 Z" fill="#fc8e6e"/>
<path d="M88.06 306.05 L88.05 307.85 L80.17 306.9 Z" fill="#fee0d2"/>
<path d="M74.17 299.92 L73.94 298.13 L81.9 298 Z" fill="#fc8363"/>
<path d="M197.05 304.03 L196.21 302.44 L203.52 299.63 Z" fill="#fcad91"/>
<path d="M111.91 293.76 L111.7 291.97 L118.3 292.11 Z" fill="#f96144"/>
<path d="M107.37 307.61 L107.27 305.81 L114.05 306.33 Z" fill="#fee0d2"/>
<path d="M174.91 304.11 L174.99 302.31 L181.3 303.49 Z" fill="#fdc8b2"/>
<path d="M209.67 299.3 L208.78 297.73 L214.43 295.55 Z" fill="#fb6e4e"/>
<path d="M101.51 302.57 L100.48 301.09 L106.97 297.64 Z" fill="#fc9475"/>
<path d="M34.54 305.91 L34.51 307.71 L28.32 306.71 Z" fill="#fee0d2"/>
<path d="M41.7 304.99 L41.64 303.19 L49.56 303.83 Z" fill="#fdd0bc"/>
</g></g>
<g clip-path="url(#cp3)"><g clip-path="url(#cr3)">
<rect x="0" y="0" width="440" height="487" fill="#38399a"/>
<path d="M26.3 308.2 C26.58 307.83 27.22 306.67 28 306 C28.78 305.33 29.62 304.77 31 304.2 C32.38 303.63 33.95 303.02 36.3 302.6 C38.65 302.18 42.38 301.88 45.1 301.7 C47.82 301.52 50.52 301.78 52.6 301.5 C54.68 301.22 56.13 300.65 57.6 300 C59.07 299.35 59.32 298.22 61.4 297.6 C63.48 296.98 66.97 296.73 70.1 296.3 C73.23 295.87 76.85 295.42 80.2 295 C83.55 294.58 86.65 294.42 90.2 293.8 C93.75 293.18 98.17 292.25 101.5 291.3 C104.83 290.35 107.45 289.05 110.2 288.1 C112.95 287.15 115.53 286.22 118 285.6 C120.47 284.98 122.67 284.77 125 284.4 C127.33 284.03 129.67 283.6 132 283.4 C134.33 283.2 136.83 283.15 139 283.2 C141.17 283.25 142.93 283.4 145 283.7 C147.07 284 149.23 284.38 151.4 285 C153.57 285.62 155.95 286.53 158 287.4 C160.05 288.27 161.95 289.1 163.7 290.2 C165.45 291.3 167.03 292.83 168.5 294 C169.97 295.17 171.25 296.33 172.5 297.2 C173.75 298.07 174.83 298.77 176 299.2 C177.17 299.63 178.17 299.83 179.5 299.8 C180.83 299.77 182.55 299.43 184 299 C185.45 298.57 186.7 297.77 188.2 297.2 C189.7 296.63 191.23 296.03 193 295.6 C194.77 295.17 195.97 294.8 198.8 294.6 C201.63 294.4 205.92 294.4 210 294.4 C214.08 294.4 219.13 294.53 223.3 294.6 C227.47 294.67 231.17 294.72 235 294.8 C238.83 294.88 243.47 294.87 246.3 295.1 C249.13 295.33 249.95 295.72 252 296.2 C254.05 296.68 256.6 297.4 258.6 298 C260.6 298.6 262.27 299.43 264 299.8 C265.73 300.17 267.33 300.43 269 300.2 C270.67 299.97 272.23 299.2 274 298.4 C275.77 297.6 277.77 296.47 279.6 295.4 C281.43 294.33 283.23 293.02 285 292 C286.77 290.98 288.53 290.08 290.2 289.3 C291.87 288.52 293.25 287.83 295 287.3 C296.75 286.77 298.53 286.27 300.7 286.1 C302.87 285.93 305.37 286.15 308 286.3 C310.63 286.45 313.83 286.83 316.5 287 C319.17 287.17 321.67 287.15 324 287.3 C326.33 287.45 328.33 287.58 330.5 287.9 C332.67 288.22 334.78 288.73 337 289.2 C339.22 289.67 341.3 290.1 343.8 290.7 C346.3 291.3 349.25 292.12 352 292.8 C354.75 293.48 357.3 294.33 360.3 294.8 C363.3 295.27 367 295.4 370 295.6 C373 295.8 376.38 295.73 378.3 296 C380.22 296.27 380.47 296.65 381.5 297.2 C382.53 297.75 383.42 298.67 384.5 299.3 C385.58 299.93 386.42 300.6 388 301 C389.58 301.4 391.72 301.52 394 301.7 C396.28 301.88 399.2 301.85 401.7 302.1 C404.2 302.35 406.95 302.75 409 303.2 C411.05 303.65 412.58 304.25 414 304.8 C415.42 305.35 416.62 305.93 417.5 306.5 C418.38 307.07 419 307.92 419.3 308.2" fill="none" stroke="#5a64b8" stroke-width="6" filter="url(#bl1)"/><ellipse cx="340" cy="301.3" rx="50" ry="1.8" fill="#b8bee6" filter="url(#bl1)"/><ellipse cx="330" cy="295" rx="30" ry="3" fill="#7e8ad0" filter="url(#bl2)"/><ellipse cx="361" cy="301.6" rx="11" ry="1.5" fill="#e58a66" filter="url(#bl1)"/><path d="M237 294 L253 295 L258 300 L256 309 L236 309Z" fill="#aab0dc" filter="url(#bl1)"/><path d="M222 293 L237 294 L238.5 300 L236 309 L222 309Z" fill="#b3261c" filter="url(#bl1)"/><path d="M222 293 L236 294 L237 300 L235 309 L222 309Z" fill="#b3261c"/><ellipse cx="237" cy="298" rx="2.2" ry="3.5" fill="#e07a50" filter="url(#bl1)"/><ellipse cx="228" cy="301.5" rx="2" ry="1.5" fill="#e39070" filter="url(#bl1)"/><path d="M286 309 L288 300 L293 291 L297 288 L299 295 L294 309Z" fill="#b8bce2" filter="url(#bl2)"/><path d="M250 295.5 L258 297.5 L265 300 L270 300.4 L276 297.5 L283 293 L290 288.5 L294 287 L292 293 L288 299 L285.5 305 L285 309 L255 309 L257 305 L254 300Z" fill="#b3261c" filter="url(#bl1)"/><ellipse cx="301" cy="288" rx="4" ry="2.6" fill="#b3261c"/><ellipse cx="322" cy="288.8" rx="3.2" ry="2" fill="#b3261c"/><ellipse cx="380" cy="298.8" rx="3" ry="2.4" fill="#b3261c"/><path d="M383 309 C385 304 388 302 393 301.5 C398 302 402 304 405 309Z" fill="#b3261c"/>
</g></g>
<g clip-path="url(#cp4)"><g clip-path="url(#cl4)">
<rect x="0" y="0" width="440" height="487" fill="#3659d4"/>
<path d="M29.6 457.9 C30.08 457.52 31.27 456.25 32.5 455.6 C33.73 454.95 34.72 454.35 37 454 C39.28 453.65 43.2 453.47 46.2 453.5 C49.2 453.53 51.93 453.88 55 454.2 C58.07 454.52 61.27 455.3 64.6 455.4 C67.93 455.5 72.22 455.05 75 454.8 C77.78 454.55 79.47 454.28 81.3 453.9 C83.13 453.52 84.63 453.07 86 452.5 C87.37 451.93 88.33 451.42 89.5 450.5 C90.67 449.58 91.6 448.43 93 447 C94.4 445.57 96.07 443.9 97.9 441.9 C99.73 439.9 101.85 437.12 104 435 C106.15 432.88 108.8 430.53 110.8 429.2 C112.8 427.87 114.3 427.6 116 427 C117.7 426.4 118.78 426.23 121 425.6 C123.22 424.97 126.8 423.57 129.3 423.2 C131.8 422.83 133.72 423.33 136 423.4 C138.28 423.47 140.67 423.62 143 423.6 C145.33 423.58 147.63 423.83 150 423.3 C152.37 422.77 154.8 421.6 157.2 420.4 C159.6 419.2 162 417.9 164.4 416.1 C166.8 414.3 169.2 412.23 171.6 409.6 C174 406.97 176.65 403.53 178.8 400.3 C180.95 397.07 182.83 393.57 184.5 390.2 C186.17 386.83 187.6 383.45 188.8 380.1 C190 376.75 190.85 373.45 191.7 370.1 C192.55 366.75 193.28 363.18 193.9 360 C194.52 356.82 194.85 353.67 195.4 351 C195.95 348.33 196.35 346.08 197.2 344 C198.05 341.92 199.2 340.17 200.5 338.5 C201.8 336.83 202.95 335.43 205 334 C207.05 332.57 209.85 330.93 212.8 329.9 C215.75 328.87 219.95 328.42 222.7 327.8 C225.45 327.18 227.12 326.28 229.3 326.2 C231.48 326.12 234.02 326.7 235.8 327.3 C237.58 327.9 239.07 328.85 240 329.8 C240.93 330.75 240.97 331.55 241.4 333 C241.83 334.45 241.97 335.77 242.6 338.5 C243.23 341.23 244.2 345.9 245.2 349.4 C246.2 352.9 247.47 356.3 248.6 359.5 C249.73 362.7 250.88 365.77 252 368.6 C253.12 371.43 254.18 374.25 255.3 376.5 C256.42 378.75 257.75 380.22 258.7 382.1 C259.65 383.98 260.25 385.73 261 387.8 C261.75 389.87 262.27 392.25 263.2 394.5 C264.13 396.75 265.28 399.22 266.6 401.3 C267.92 403.38 269.4 405.12 271.1 407 C272.8 408.88 274.53 410.92 276.8 412.6 C279.07 414.28 281.88 415.78 284.7 417.1 C287.52 418.42 290.68 419.55 293.7 420.5 C296.72 421.45 299.78 422.18 302.8 422.8 C305.82 423.42 309.6 423.93 311.8 424.2 C314 424.47 314.57 424.13 316 424.4 C317.43 424.67 318.97 425 320.4 425.8 C321.83 426.6 323 428.17 324.6 429.2 C326.2 430.23 328.22 431.13 330 432 C331.78 432.87 333.47 433.4 335.3 434.4 C337.13 435.4 338.88 436.58 341 438 C343.12 439.42 346.08 441.4 348 442.9 C349.92 444.4 351.07 445.62 352.5 447 C353.93 448.38 355.35 450.1 356.6 451.2 C357.85 452.3 358.85 453.03 360 453.6 C361.15 454.17 361.83 454.48 363.5 454.6 C365.17 454.72 367.58 454.47 370 454.3 C372.42 454.13 375 453.85 378 453.6 C381 453.35 384.83 452.97 388 452.8 C391.17 452.63 394.33 452.57 397 452.6 C399.67 452.63 401.83 452.73 404 453 C406.17 453.27 408.5 453.7 410 454.2 C411.5 454.7 412.3 455.38 413 456 C413.7 456.62 414 457.58 414.2 457.9Z" fill="#1fc4c0" stroke="#3659d4" stroke-width="3" filter="url(#bl1)"/>
<g clip-path="url(#cap5)"><path d="M29.6 457.9 C30.08 457.52 31.27 456.25 32.5 455.6 C33.73 454.95 34.72 454.35 37 454 C39.28 453.65 43.2 453.47 46.2 453.5 C49.2 453.53 51.93 453.88 55 454.2 C58.07 454.52 61.27 455.3 64.6 455.4 C67.93 455.5 72.22 455.05 75 454.8 C77.78 454.55 79.47 454.28 81.3 453.9 C83.13 453.52 84.63 453.07 86 452.5 C87.37 451.93 88.33 451.42 89.5 450.5 C90.67 449.58 91.6 448.43 93 447 C94.4 445.57 96.07 443.9 97.9 441.9 C99.73 439.9 101.85 437.12 104 435 C106.15 432.88 108.8 430.53 110.8 429.2 C112.8 427.87 114.3 427.6 116 427 C117.7 426.4 118.78 426.23 121 425.6 C123.22 424.97 126.8 423.57 129.3 423.2 C131.8 422.83 133.72 423.33 136 423.4 C138.28 423.47 140.67 423.62 143 423.6 C145.33 423.58 147.63 423.83 150 423.3 C152.37 422.77 154.8 421.6 157.2 420.4 C159.6 419.2 162 417.9 164.4 416.1 C166.8 414.3 169.2 412.23 171.6 409.6 C174 406.97 176.65 403.53 178.8 400.3 C180.95 397.07 182.83 393.57 184.5 390.2 C186.17 386.83 187.6 383.45 188.8 380.1 C190 376.75 190.85 373.45 191.7 370.1 C192.55 366.75 193.28 363.18 193.9 360 C194.52 356.82 194.85 353.67 195.4 351 C195.95 348.33 196.35 346.08 197.2 344 C198.05 341.92 199.2 340.17 200.5 338.5 C201.8 336.83 202.95 335.43 205 334 C207.05 332.57 209.85 330.93 212.8 329.9 C215.75 328.87 219.95 328.42 222.7 327.8 C225.45 327.18 227.12 326.28 229.3 326.2 C231.48 326.12 234.02 326.7 235.8 327.3 C237.58 327.9 239.07 328.85 240 329.8 C240.93 330.75 240.97 331.55 241.4 333 C241.83 334.45 241.97 335.77 242.6 338.5 C243.23 341.23 244.2 345.9 245.2 349.4 C246.2 352.9 247.47 356.3 248.6 359.5 C249.73 362.7 250.88 365.77 252 368.6 C253.12 371.43 254.18 374.25 255.3 376.5 C256.42 378.75 257.75 380.22 258.7 382.1 C259.65 383.98 260.25 385.73 261 387.8 C261.75 389.87 262.27 392.25 263.2 394.5 C264.13 396.75 265.28 399.22 266.6 401.3 C267.92 403.38 269.4 405.12 271.1 407 C272.8 408.88 274.53 410.92 276.8 412.6 C279.07 414.28 281.88 415.78 284.7 417.1 C287.52 418.42 290.68 419.55 293.7 420.5 C296.72 421.45 299.78 422.18 302.8 422.8 C305.82 423.42 309.6 423.93 311.8 424.2 C314 424.47 314.57 424.13 316 424.4 C317.43 424.67 318.97 425 320.4 425.8 C321.83 426.6 323 428.17 324.6 429.2 C326.2 430.23 328.22 431.13 330 432 C331.78 432.87 333.47 433.4 335.3 434.4 C337.13 435.4 338.88 436.58 341 438 C343.12 439.42 346.08 441.4 348 442.9 C349.92 444.4 351.07 445.62 352.5 447 C353.93 448.38 355.35 450.1 356.6 451.2 C357.85 452.3 358.85 453.03 360 453.6 C361.15 454.17 361.83 454.48 363.5 454.6 C365.17 454.72 367.58 454.47 370 454.3 C372.42 454.13 375 453.85 378 453.6 C381 453.35 384.83 452.97 388 452.8 C391.17 452.63 394.33 452.57 397 452.6 C399.67 452.63 401.83 452.73 404 453 C406.17 453.27 408.5 453.7 410 454.2 C411.5 454.7 412.3 455.38 413 456 C413.7 456.62 414 457.58 414.2 457.9Z" fill="none" stroke="#3659d4" stroke-width="9" filter="url(#bl1)"/></g>
<rect x="0" y="453.9" width="440" height="4" fill="url(#gBot)"/>
<path d="M139.55 444.5 L139.42 442.51 L147.5 442.96 Z" fill="#fca88b"/>
<path d="M174.33 451.12 L174.2 449.13 L181.69 449.64 Z" fill="#fdc9b3"/>
<path d="M194.5 438.7 L195.04 436.78 L203.38 440.18 Z" fill="#fc9272"/>
<path d="M216.83 405.91 L214.83 406.02 L215.46 398.9 Z" fill="#fb6d4d"/>
<path d="M180.5 422.73 L178.66 421.94 L182.58 415.35 Z" fill="#fc9272"/>
<path d="M216.1 443.92 L215.87 441.94 L224.1 441.95 Z" fill="#fca487"/>
<path d="M163.34 429.78 L161.77 428.54 L168.08 422.1 Z" fill="#fc9272"/>
<path d="M216.28 456.93 L216.41 454.93 L225.22 456.52 Z" fill="#fee0d2"/>
<path d="M124.89 436.66 L124.47 434.7 L131.77 434.17 Z" fill="#fc7e5e"/>
<path d="M144.85 436.66 L144.42 434.71 L153.75 433.67 Z" fill="#fc7e5e"/>
<path d="M198 401.43 L196 401.38 L197.18 393.94 Z" fill="#fa6446"/>
<path d="M201.15 383.26 L199.15 383.16 L200.58 374.8 Z" fill="#f03e2e"/>
<path d="M207.01 405.41 L205.05 405.77 L204.52 397.48 Z" fill="#fb6c4c"/>
<path d="M214.51 355.62 L212.55 355.2 L214.97 348.67 Z" fill="#cb181d"/>
<path d="M216.35 434.21 L214.36 434.07 L215.94 425.63 Z" fill="#fc9272"/>
<path d="M210.03 390.63 L208.06 390.96 L207.48 381.19 Z" fill="#f34c37"/>
<path d="M43.03 457.67 L42.54 455.73 L49.44 455.01 Z" fill="#fee0d2"/>
<path d="M202.09 448.23 L202.48 446.27 L211.78 449.13 Z" fill="#fcc1a9"/>
<path d="M202.15 367.73 L200.16 367.89 L200.6 360.74 Z" fill="#da2623"/>
<path d="M211.67 418.71 L209.7 418.37 L211.9 411.48 Z" fill="#fc9272"/>
<path d="M111.97 434.28 L111.89 432.29 L121.4 432.89 Z" fill="#fc7e5e"/>
<path d="M206.06 457.6 L205.73 455.62 L213.09 455.41 Z" fill="#fee0d2"/>
<path d="M169.47 440.13 L168.63 438.32 L176.98 435.57 Z" fill="#fc8a6a"/>
<path d="M147.86 447.76 L148.29 445.81 L156.08 448.57 Z" fill="#fcbfa6"/>
<path d="M105.11 454.08 L105.01 452.09 L113.27 452.69 Z" fill="#fdd7c6"/>
<path d="M118.25 454.35 L118.31 452.35 L126.95 453.63 Z" fill="#fed9c9"/>
<path d="M130.6 442.42 L131.15 440.49 L140.16 444.12 Z" fill="#fca689"/>
<path d="M121.44 443.7 L122.14 441.82 L129.39 445.59 Z" fill="#fcad91"/>
<path d="M204.83 429.95 L202.9 429.43 L205.83 422.45 Z" fill="#fc9272"/>
<path d="M161.38 450.29 L161.05 448.32 L170.26 447.77 Z" fill="#fcc3ab"/>
<path d="M199.18 413.81 L197.23 413.37 L200.3 404.27 Z" fill="#fc9272"/>
<path d="M198.32 360.47 L196.32 360.43 L197.48 351.93 Z" fill="#cd1a1e"/>
<path d="M209.26 379 L207.31 379.44 L206.16 369.84 Z" fill="#ea362a"/>
<path d="M191.87 385.28 L189.9 384.97 L192.08 377.57 Z" fill="#f14231"/>
<path d="M186.79 405.56 L184.79 405.52 L185.99 396.14 Z" fill="#fb6b4b"/>
<path d="M192.13 452.73 L192.04 450.73 L201.4 451.28 Z" fill="#fdd0bd"/>
<path d="M211.35 399.04 L209.36 399.31 L209.32 391.62 Z" fill="#f86043"/>
<path d="M146.84 428.2 L146.31 426.27 L154.17 425.16 Z" fill="#fc9272"/>
<path d="M188.02 422.85 L186.33 421.78 L191.72 415.14 Z" fill="#fc9272"/>
<path d="M97.75 445.54 L98.52 443.7 L105.09 447.54 Z" fill="#fcb79c"/>
<path d="M219.61 344.74 L217.63 345 L217.51 336.66 Z" fill="#cb181d"/>
<path d="M161.6 435.5 L161.14 433.56 L169.56 432.57 Z" fill="#fc7e5e"/>
<path d="M203.93 438.51 L203.9 436.51 L210.99 437.41 Z" fill="#fc8b6b"/>
<path d="M180.21 458.54 L179.54 456.66 L187.6 454.83 Z" fill="#fee0d2"/>
<path d="M197.63 420.66 L195.7 420.13 L198.68 413.07 Z" fill="#fc9272"/>
<path d="M102.7 436.7 L102.8 434.7 L109.68 436.02 Z" fill="#fc8363"/>
<path d="M135.12 436.06 L134.65 434.12 L141.67 433.46 Z" fill="#fc7e5e"/>
<path d="M178.5 442.05 L179.03 440.12 L185.36 442.88 Z" fill="#fca284"/>
<path d="M189.13 414.55 L187.31 413.71 L191.12 407.83 Z" fill="#fc9272"/>
<path d="M216.81 371.73 L214.81 371.79 L215.55 362.65 Z" fill="#de2b25"/>
<path d="M138.02 455.87 L138.66 453.98 L146.77 457.77 Z" fill="#fee0d2"/>
<path d="M203.94 354.97 L201.98 355.37 L201.34 347.25 Z" fill="#cb181d"/>
<path d="M97.47 453.03 L98.21 451.18 L106.08 455.41 Z" fill="#fedbcb"/>
<path d="M182.99 428.5 L181.44 427.23 L187.95 420.81 Z" fill="#fc9272"/>
<path d="M175.87 430.46 L174.35 429.16 L181.03 422.84 Z" fill="#fc9272"/>
<path d="M220.95 393.88 L219.01 394.38 L218.1 386.73 Z" fill="#f6553d"/>
<path d="M222.12 382.21 L220.16 382.62 L219.66 375.44 Z" fill="#f03d2e"/>
<path d="M210.42 364.62 L208.42 364.75 L208.82 355.25 Z" fill="#d32020"/>
<path d="M129.07 425.16 L129.79 423.29 L136.78 427.03 Z" fill="#fc7e5e"/>
<path d="M89.86 451.14 L89.66 449.15 L99.28 449.18 Z" fill="#fdc8b2"/>
<path d="M111.67 446.11 L111.04 444.21 L118.87 442.65 Z" fill="#fcac8f"/>
<path d="M218.95 425.78 L217.03 425.24 L219.87 418.86 Z" fill="#fc9272"/>
<path d="M181.61 433.48 L182.1 431.54 L190.77 434.77 Z" fill="#fc7e5e"/>
<path d="M155.63 436.4 L154.75 434.6 L162.03 432.17 Z" fill="#fc7e5e"/>
<path d="M152.54 443.52 L152.13 441.56 L161.56 440.6 Z" fill="#fca082"/>
<path d="M215.4 387.83 L213.42 387.56 L215.32 380.82 Z" fill="#f24935"/>
<path d="M128.27 457.41 L128.36 455.41 L137.04 456.8 Z" fill="#fee0d2"/>
<path d="M177.32 411.07 L176.13 409.47 L184.52 404.49 Z" fill="#fc9272"/>
<path d="M188.29 446.91 L188.1 444.92 L196.87 445.05 Z" fill="#fcb499"/>
<path d="M212.13 346.44 L210.14 346.38 L211.38 338.04 Z" fill="#cb181d"/>
<path d="M124.42 449.77 L125.14 447.91 L133.15 452.08 Z" fill="#fdcbb7"/>
<path d="M218.89 415.67 L216.89 415.66 L217.93 407.7 Z" fill="#fc9272"/>
<path d="M222.46 356.97 L220.46 357.02 L221.26 348.71 Z" fill="#cb181d"/>
<path d="M197.2 430.8 L195.21 430.53 L197.38 421.87 Z" fill="#fc9272"/>
<path d="M221.3 336.32 L219.35 335.88 L222.3 327.24 Z" fill="#cb181d"/>
<path d="M158.59 456.66 L158.44 454.66 L165.37 455.16 Z" fill="#fee0d2"/>
<path d="M170.64 433.46 L168.97 432.36 L173.73 427 Z" fill="#fc9272"/>
<path d="M172.9 419.02 L171.42 417.69 L177.38 412.57 Z" fill="#fc9272"/>
<path d="M208.05 441.25 L208.75 439.38 L217.25 443.64 Z" fill="#fca284"/>
<path d="M193.37 397.47 L191.38 397.72 L191.26 388.98 Z" fill="#f75b41"/>
<path d="M154.9 428.92 L153.92 427.18 L160.68 424.51 Z" fill="#fc9272"/>
<path d="M195.42 372.58 L193.42 372.5 L194.78 364.2 Z" fill="#e02d26"/>
<path d="M205.3 341.17 L203.31 341.02 L204.86 333.71 Z" fill="#cb181d"/>
<path d="M82.57 458.55 L82.01 456.63 L89.14 455.61 Z" fill="#fee0d2"/>
<path d="M201.32 390.59 L199.32 390.58 L200.38 382.4 Z" fill="#f44d38"/>
<path d="M137.13 430.41 L136.36 428.56 L144.96 426.04 Z" fill="#fc7e5e"/>
<path d="M210.2 451.65 L210.24 449.65 L217.66 450.79 Z" fill="#fdcdb8"/>
<path d="M216.32 363.83 L214.34 363.52 L216.79 354.4 Z" fill="#d11e20"/>
<path d="M150.58 457.55 L149.89 455.67 L158.02 453.73 Z" fill="#fee0d2"/>
<path d="M211.43 427.25 L209.56 426.53 L213.32 419.54 Z" fill="#fc9272"/>
<path d="M206.52 414.44 L204.59 413.92 L207.88 405.48 Z" fill="#fc9272"/>
<path d="M221.06 401.37 L219.07 401.18 L220.83 393.27 Z" fill="#f96346"/>
<path d="M134.05 450.84 L133.84 448.86 L142.28 448.95 Z" fill="#fdc7b0"/>
<path d="M111.49 451.28 L112.11 449.38 L120.2 453.08 Z" fill="#fdd1be"/>
<path d="M162.62 443.86 L161.96 441.97 L170.12 440.2 Z" fill="#fca082"/>
<path d="M176.31 436.12 L175.76 434.19 L182.86 433.22 Z" fill="#fc7e5e"/>
<path d="M213.3 337.14 L211.31 336.97 L213.04 328.45 Z" fill="#cb181d"/>
<path d="M170 457.7 L169.89 455.7 L178.1 456.25 Z" fill="#fee0d2"/>
<path d="M118.74 428.31 L119.19 426.36 L128.26 429.47 Z" fill="#fc7e5e"/>
<path d="M190.95 434.69 L190.74 432.7 L199.52 432.78 Z" fill="#fc7e5e"/>
<path d="M166.51 421.82 L165.01 420.49 L170.64 415.64 Z" fill="#fc9272"/>
<path d="M187.39 458.47 L186.98 456.52 L195.43 455.76 Z" fill="#fee0d2"/>
</g></g>
<g clip-path="url(#cp4)"><g clip-path="url(#cr4)">
<rect x="0" y="0" width="440" height="487" fill="#38399a"/>
<path d="M29.6 457.9 C30.08 457.52 31.27 456.25 32.5 455.6 C33.73 454.95 34.72 454.35 37 454 C39.28 453.65 43.2 453.47 46.2 453.5 C49.2 453.53 51.93 453.88 55 454.2 C58.07 454.52 61.27 455.3 64.6 455.4 C67.93 455.5 72.22 455.05 75 454.8 C77.78 454.55 79.47 454.28 81.3 453.9 C83.13 453.52 84.63 453.07 86 452.5 C87.37 451.93 88.33 451.42 89.5 450.5 C90.67 449.58 91.6 448.43 93 447 C94.4 445.57 96.07 443.9 97.9 441.9 C99.73 439.9 101.85 437.12 104 435 C106.15 432.88 108.8 430.53 110.8 429.2 C112.8 427.87 114.3 427.6 116 427 C117.7 426.4 118.78 426.23 121 425.6 C123.22 424.97 126.8 423.57 129.3 423.2 C131.8 422.83 133.72 423.33 136 423.4 C138.28 423.47 140.67 423.62 143 423.6 C145.33 423.58 147.63 423.83 150 423.3 C152.37 422.77 154.8 421.6 157.2 420.4 C159.6 419.2 162 417.9 164.4 416.1 C166.8 414.3 169.2 412.23 171.6 409.6 C174 406.97 176.65 403.53 178.8 400.3 C180.95 397.07 182.83 393.57 184.5 390.2 C186.17 386.83 187.6 383.45 188.8 380.1 C190 376.75 190.85 373.45 191.7 370.1 C192.55 366.75 193.28 363.18 193.9 360 C194.52 356.82 194.85 353.67 195.4 351 C195.95 348.33 196.35 346.08 197.2 344 C198.05 341.92 199.2 340.17 200.5 338.5 C201.8 336.83 202.95 335.43 205 334 C207.05 332.57 209.85 330.93 212.8 329.9 C215.75 328.87 219.95 328.42 222.7 327.8 C225.45 327.18 227.12 326.28 229.3 326.2 C231.48 326.12 234.02 326.7 235.8 327.3 C237.58 327.9 239.07 328.85 240 329.8 C240.93 330.75 240.97 331.55 241.4 333 C241.83 334.45 241.97 335.77 242.6 338.5 C243.23 341.23 244.2 345.9 245.2 349.4 C246.2 352.9 247.47 356.3 248.6 359.5 C249.73 362.7 250.88 365.77 252 368.6 C253.12 371.43 254.18 374.25 255.3 376.5 C256.42 378.75 257.75 380.22 258.7 382.1 C259.65 383.98 260.25 385.73 261 387.8 C261.75 389.87 262.27 392.25 263.2 394.5 C264.13 396.75 265.28 399.22 266.6 401.3 C267.92 403.38 269.4 405.12 271.1 407 C272.8 408.88 274.53 410.92 276.8 412.6 C279.07 414.28 281.88 415.78 284.7 417.1 C287.52 418.42 290.68 419.55 293.7 420.5 C296.72 421.45 299.78 422.18 302.8 422.8 C305.82 423.42 309.6 423.93 311.8 424.2 C314 424.47 314.57 424.13 316 424.4 C317.43 424.67 318.97 425 320.4 425.8 C321.83 426.6 323 428.17 324.6 429.2 C326.2 430.23 328.22 431.13 330 432 C331.78 432.87 333.47 433.4 335.3 434.4 C337.13 435.4 338.88 436.58 341 438 C343.12 439.42 346.08 441.4 348 442.9 C349.92 444.4 351.07 445.62 352.5 447 C353.93 448.38 355.35 450.1 356.6 451.2 C357.85 452.3 358.85 453.03 360 453.6 C361.15 454.17 361.83 454.48 363.5 454.6 C365.17 454.72 367.58 454.47 370 454.3 C372.42 454.13 375 453.85 378 453.6 C381 453.35 384.83 452.97 388 452.8 C391.17 452.63 394.33 452.57 397 452.6 C399.67 452.63 401.83 452.73 404 453 C406.17 453.27 408.5 453.7 410 454.2 C411.5 454.7 412.3 455.38 413 456 C413.7 456.62 414 457.58 414.2 457.9" fill="none" stroke="#7683cc" stroke-width="8" stroke-opacity="0.8" filter="url(#bl1)"/><ellipse cx="250" cy="420" rx="5" ry="22" fill="#5862b4" opacity="0.5" filter="url(#bl2)"/><g clip-path="url(#flank)"><path d="M29.6 457.9 C30.08 457.52 31.27 456.25 32.5 455.6 C33.73 454.95 34.72 454.35 37 454 C39.28 453.65 43.2 453.47 46.2 453.5 C49.2 453.53 51.93 453.88 55 454.2 C58.07 454.52 61.27 455.3 64.6 455.4 C67.93 455.5 72.22 455.05 75 454.8 C77.78 454.55 79.47 454.28 81.3 453.9 C83.13 453.52 84.63 453.07 86 452.5 C87.37 451.93 88.33 451.42 89.5 450.5 C90.67 449.58 91.6 448.43 93 447 C94.4 445.57 96.07 443.9 97.9 441.9 C99.73 439.9 101.85 437.12 104 435 C106.15 432.88 108.8 430.53 110.8 429.2 C112.8 427.87 114.3 427.6 116 427 C117.7 426.4 118.78 426.23 121 425.6 C123.22 424.97 126.8 423.57 129.3 423.2 C131.8 422.83 133.72 423.33 136 423.4 C138.28 423.47 140.67 423.62 143 423.6 C145.33 423.58 147.63 423.83 150 423.3 C152.37 422.77 154.8 421.6 157.2 420.4 C159.6 419.2 162 417.9 164.4 416.1 C166.8 414.3 169.2 412.23 171.6 409.6 C174 406.97 176.65 403.53 178.8 400.3 C180.95 397.07 182.83 393.57 184.5 390.2 C186.17 386.83 187.6 383.45 188.8 380.1 C190 376.75 190.85 373.45 191.7 370.1 C192.55 366.75 193.28 363.18 193.9 360 C194.52 356.82 194.85 353.67 195.4 351 C195.95 348.33 196.35 346.08 197.2 344 C198.05 341.92 199.2 340.17 200.5 338.5 C201.8 336.83 202.95 335.43 205 334 C207.05 332.57 209.85 330.93 212.8 329.9 C215.75 328.87 219.95 328.42 222.7 327.8 C225.45 327.18 227.12 326.28 229.3 326.2 C231.48 326.12 234.02 326.7 235.8 327.3 C237.58 327.9 239.07 328.85 240 329.8 C240.93 330.75 240.97 331.55 241.4 333 C241.83 334.45 241.97 335.77 242.6 338.5 C243.23 341.23 244.2 345.9 245.2 349.4 C246.2 352.9 247.47 356.3 248.6 359.5 C249.73 362.7 250.88 365.77 252 368.6 C253.12 371.43 254.18 374.25 255.3 376.5 C256.42 378.75 257.75 380.22 258.7 382.1 C259.65 383.98 260.25 385.73 261 387.8 C261.75 389.87 262.27 392.25 263.2 394.5 C264.13 396.75 265.28 399.22 266.6 401.3 C267.92 403.38 269.4 405.12 271.1 407 C272.8 408.88 274.53 410.92 276.8 412.6 C279.07 414.28 281.88 415.78 284.7 417.1 C287.52 418.42 290.68 419.55 293.7 420.5 C296.72 421.45 299.78 422.18 302.8 422.8 C305.82 423.42 309.6 423.93 311.8 424.2 C314 424.47 314.57 424.13 316 424.4 C317.43 424.67 318.97 425 320.4 425.8 C321.83 426.6 323 428.17 324.6 429.2 C326.2 430.23 328.22 431.13 330 432 C331.78 432.87 333.47 433.4 335.3 434.4 C337.13 435.4 338.88 436.58 341 438 C343.12 439.42 346.08 441.4 348 442.9 C349.92 444.4 351.07 445.62 352.5 447 C353.93 448.38 355.35 450.1 356.6 451.2 C357.85 452.3 358.85 453.03 360 453.6 C361.15 454.17 361.83 454.48 363.5 454.6 C365.17 454.72 367.58 454.47 370 454.3 C372.42 454.13 375 453.85 378 453.6 C381 453.35 384.83 452.97 388 452.8 C391.17 452.63 394.33 452.57 397 452.6 C399.67 452.63 401.83 452.73 404 453 C406.17 453.27 408.5 453.7 410 454.2 C411.5 454.7 412.3 455.38 413 456 C413.7 456.62 414 457.58 414.2 457.9" fill="none" stroke="#c8503c" stroke-width="2.4"/></g><path d="M225 328 C229 328 236 329 240 332 C242 334 242 337 241 338.5 C236 338.5 231 336 227 333.5 C224.5 332 224 330 225 328Z" fill="#b4b8e0" filter="url(#bl1)"/><path d="M225.5 326 C230 325.5 237 326.5 240.5 329 C242 331 242 334 240.5 335.8 C237 336 233 334.5 229.5 332 C227 330.5 225.5 329 225.5 326Z" fill="#b3261c"/><ellipse cx="316.5" cy="427.2" rx="5" ry="3.8" fill="#b3261c"/><ellipse cx="361" cy="455.2" rx="6" ry="3.4" fill="#b3261c"/>
</g></g>
<path d="M144.8 170.9 C144.63 169.08 144.1 164.15 143.8 160 C143.5 155.85 143.47 150.5 143 146 C142.53 141.5 141.62 137 141 133 C140.38 129 139.63 125.5 139.3 122 C138.97 118.5 138.8 115.5 139 112 C139.2 108.5 139.67 105 140.5 101 C141.33 97 142.42 92.17 144 88 C145.58 83.83 147.55 80.08 150 76 C152.45 71.92 155.7 67.17 158.7 63.5 C161.7 59.83 164.4 56.92 168 54 C171.6 51.08 176.63 48.08 180.3 46 C183.97 43.92 186.42 42.8 190 41.5 C193.58 40.2 198.13 38.98 201.8 38.2 C205.47 37.42 208.47 37.1 212 36.8 C215.53 36.5 219.17 36.4 223 36.4 C226.83 36.4 231.17 36.43 235 36.8 C238.83 37.17 241.33 37.33 246 38.6 C250.67 39.87 258.17 42.17 263 44.4 C267.83 46.63 271.38 49.13 275 52 C278.62 54.87 281.7 58.1 284.7 61.6 C287.7 65.1 290.37 68.68 293 73 C295.63 77.32 298.53 83 300.5 87.5 C302.47 92 303.75 95.92 304.8 100 C305.85 104.08 306.47 108.33 306.8 112 C307.13 115.67 307.02 118.67 306.8 122 C306.58 125.33 305.88 128.67 305.5 132 C305.12 135.33 304.92 138.17 304.5 142 C304.08 145.83 303.42 151.17 303 155 C302.58 158.83 302.2 162.35 302 165 C301.8 167.65 301.83 169.92 301.8 170.9" fill="none" stroke="#111" stroke-width="1.45" stroke-linejoin="round"/>
<path d="M47.5 229.2 C47.55 228.5 47.47 226.45 47.8 225 C48.13 223.55 48.55 222 49.5 220.5 C50.45 219 51.95 217.32 53.5 216 C55.05 214.68 56.88 213.47 58.8 212.6 C60.72 211.73 62.92 211.27 65 210.8 C67.08 210.33 67.13 210.17 71.3 209.8 C75.47 209.43 82.72 208.82 90 208.6 C97.28 208.38 108.33 208.7 115 208.5 C121.67 208.3 125.2 208.15 130 207.4 C134.8 206.65 139.2 205.4 143.8 204 C148.4 202.6 153 200.73 157.6 199 C162.2 197.27 166.83 195.18 171.4 193.6 C175.97 192.02 180.4 190.48 185 189.5 C189.6 188.52 193.22 188.17 199 187.7 C204.78 187.23 214.53 186.77 219.7 186.7 C224.87 186.63 225.95 187.08 230 187.3 C234.05 187.52 239.4 187.62 244 188 C248.6 188.38 253.6 188.9 257.6 189.6 C261.6 190.3 264.55 191.18 268 192.2 C271.45 193.22 274.8 194.48 278.3 195.7 C281.8 196.92 285.55 198.32 289 199.5 C292.45 200.68 295.03 201.5 299 202.8 C302.97 204.1 308.2 206.37 312.8 207.3 C317.4 208.23 322.07 208.18 326.6 208.4 C331.13 208.62 334.43 208.5 340 208.6 C345.57 208.7 354.17 208.83 360 209 C365.83 209.17 370.6 209.07 375 209.6 C379.4 210.13 383.15 210.97 386.4 212.2 C389.65 213.43 392.4 215.37 394.5 217 C396.6 218.63 397.97 220.5 399 222 C400.03 223.5 400.37 224.8 400.7 226 C401.03 227.2 400.95 228.67 401 229.2" fill="none" stroke="#111" stroke-width="1.45" stroke-linejoin="round"/>
<path d="M15.3 267.6 C15.38 266.83 15.43 264.52 15.8 263 C16.17 261.48 16.8 260.17 17.5 258.5 C18.2 256.83 19.17 254.65 20 253 C20.83 251.35 21.75 249.67 22.5 248.6 C23.25 247.53 23.13 247.03 24.5 246.6 C25.87 246.17 28.78 246.03 30.7 246 C32.62 245.97 34.17 246.13 36 246.4 C37.83 246.67 39.95 247.08 41.7 247.6 C43.45 248.12 44.88 248.83 46.5 249.5 C48.12 250.17 49.65 250.95 51.4 251.6 C53.15 252.25 55.17 252.9 57 253.4 C58.83 253.9 59.9 254.22 62.4 254.6 C64.9 254.98 68.08 255.43 72 255.7 C75.92 255.97 81.28 256.17 85.9 256.2 C90.52 256.23 94.02 256.07 99.7 255.9 C105.38 255.73 112.85 255.52 120 255.2 C127.15 254.88 135.93 254.38 142.6 254 C149.27 253.62 154.15 253.28 160 252.9 C165.85 252.52 171.87 252.1 177.7 251.7 C183.53 251.3 189.15 250.88 195 250.5 C200.85 250.12 206.97 249.68 212.8 249.4 C218.63 249.12 222.97 248.63 230 248.8 C237.03 248.97 248 249.87 255 250.4 C262 250.93 266.17 251.5 272 252 C277.83 252.5 283.67 253.03 290 253.4 C296.33 253.77 304.17 254 310 254.2 C315.83 254.4 320 254.4 325 254.6 C330 254.8 334.17 255.2 340 255.4 C345.83 255.6 355 255.8 360 255.8 C365 255.8 366.87 255.77 370 255.4 C373.13 255.03 375.88 254.3 378.8 253.6 C381.72 252.9 384.58 252.07 387.5 251.2 C390.42 250.33 394.1 249.13 396.3 248.4 C398.5 247.67 398.5 247.25 400.7 246.8 C402.9 246.35 406.72 246 409.5 245.7 C412.28 245.4 415.22 244.23 417.4 245 C419.58 245.77 421.15 248.55 422.6 250.3 C424.05 252.05 425.15 253.9 426.1 255.5 C427.05 257.1 427.93 258.65 428.3 259.9 C428.67 261.15 428.38 261.72 428.3 263 C428.22 264.28 427.88 266.83 427.8 267.6" fill="none" stroke="#111" stroke-width="1.45" stroke-linejoin="round"/>
<path d="M26.3 308.2 C26.58 307.83 27.22 306.67 28 306 C28.78 305.33 29.62 304.77 31 304.2 C32.38 303.63 33.95 303.02 36.3 302.6 C38.65 302.18 42.38 301.88 45.1 301.7 C47.82 301.52 50.52 301.78 52.6 301.5 C54.68 301.22 56.13 300.65 57.6 300 C59.07 299.35 59.32 298.22 61.4 297.6 C63.48 296.98 66.97 296.73 70.1 296.3 C73.23 295.87 76.85 295.42 80.2 295 C83.55 294.58 86.65 294.42 90.2 293.8 C93.75 293.18 98.17 292.25 101.5 291.3 C104.83 290.35 107.45 289.05 110.2 288.1 C112.95 287.15 115.53 286.22 118 285.6 C120.47 284.98 122.67 284.77 125 284.4 C127.33 284.03 129.67 283.6 132 283.4 C134.33 283.2 136.83 283.15 139 283.2 C141.17 283.25 142.93 283.4 145 283.7 C147.07 284 149.23 284.38 151.4 285 C153.57 285.62 155.95 286.53 158 287.4 C160.05 288.27 161.95 289.1 163.7 290.2 C165.45 291.3 167.03 292.83 168.5 294 C169.97 295.17 171.25 296.33 172.5 297.2 C173.75 298.07 174.83 298.77 176 299.2 C177.17 299.63 178.17 299.83 179.5 299.8 C180.83 299.77 182.55 299.43 184 299 C185.45 298.57 186.7 297.77 188.2 297.2 C189.7 296.63 191.23 296.03 193 295.6 C194.77 295.17 195.97 294.8 198.8 294.6 C201.63 294.4 205.92 294.4 210 294.4 C214.08 294.4 219.13 294.53 223.3 294.6 C227.47 294.67 231.17 294.72 235 294.8 C238.83 294.88 243.47 294.87 246.3 295.1 C249.13 295.33 249.95 295.72 252 296.2 C254.05 296.68 256.6 297.4 258.6 298 C260.6 298.6 262.27 299.43 264 299.8 C265.73 300.17 267.33 300.43 269 300.2 C270.67 299.97 272.23 299.2 274 298.4 C275.77 297.6 277.77 296.47 279.6 295.4 C281.43 294.33 283.23 293.02 285 292 C286.77 290.98 288.53 290.08 290.2 289.3 C291.87 288.52 293.25 287.83 295 287.3 C296.75 286.77 298.53 286.27 300.7 286.1 C302.87 285.93 305.37 286.15 308 286.3 C310.63 286.45 313.83 286.83 316.5 287 C319.17 287.17 321.67 287.15 324 287.3 C326.33 287.45 328.33 287.58 330.5 287.9 C332.67 288.22 334.78 288.73 337 289.2 C339.22 289.67 341.3 290.1 343.8 290.7 C346.3 291.3 349.25 292.12 352 292.8 C354.75 293.48 357.3 294.33 360.3 294.8 C363.3 295.27 367 295.4 370 295.6 C373 295.8 376.38 295.73 378.3 296 C380.22 296.27 380.47 296.65 381.5 297.2 C382.53 297.75 383.42 298.67 384.5 299.3 C385.58 299.93 386.42 300.6 388 301 C389.58 301.4 391.72 301.52 394 301.7 C396.28 301.88 399.2 301.85 401.7 302.1 C404.2 302.35 406.95 302.75 409 303.2 C411.05 303.65 412.58 304.25 414 304.8 C415.42 305.35 416.62 305.93 417.5 306.5 C418.38 307.07 419 307.92 419.3 308.2" fill="none" stroke="#111" stroke-width="1.45" stroke-linejoin="round"/>
<path d="M29.6 457.9 C30.08 457.52 31.27 456.25 32.5 455.6 C33.73 454.95 34.72 454.35 37 454 C39.28 453.65 43.2 453.47 46.2 453.5 C49.2 453.53 51.93 453.88 55 454.2 C58.07 454.52 61.27 455.3 64.6 455.4 C67.93 455.5 72.22 455.05 75 454.8 C77.78 454.55 79.47 454.28 81.3 453.9 C83.13 453.52 84.63 453.07 86 452.5 C87.37 451.93 88.33 451.42 89.5 450.5 C90.67 449.58 91.6 448.43 93 447 C94.4 445.57 96.07 443.9 97.9 441.9 C99.73 439.9 101.85 437.12 104 435 C106.15 432.88 108.8 430.53 110.8 429.2 C112.8 427.87 114.3 427.6 116 427 C117.7 426.4 118.78 426.23 121 425.6 C123.22 424.97 126.8 423.57 129.3 423.2 C131.8 422.83 133.72 423.33 136 423.4 C138.28 423.47 140.67 423.62 143 423.6 C145.33 423.58 147.63 423.83 150 423.3 C152.37 422.77 154.8 421.6 157.2 420.4 C159.6 419.2 162 417.9 164.4 416.1 C166.8 414.3 169.2 412.23 171.6 409.6 C174 406.97 176.65 403.53 178.8 400.3 C180.95 397.07 182.83 393.57 184.5 390.2 C186.17 386.83 187.6 383.45 188.8 380.1 C190 376.75 190.85 373.45 191.7 370.1 C192.55 366.75 193.28 363.18 193.9 360 C194.52 356.82 194.85 353.67 195.4 351 C195.95 348.33 196.35 346.08 197.2 344 C198.05 341.92 199.2 340.17 200.5 338.5 C201.8 336.83 202.95 335.43 205 334 C207.05 332.57 209.85 330.93 212.8 329.9 C215.75 328.87 219.95 328.42 222.7 327.8 C225.45 327.18 227.12 326.28 229.3 326.2 C231.48 326.12 234.02 326.7 235.8 327.3 C237.58 327.9 239.07 328.85 240 329.8 C240.93 330.75 240.97 331.55 241.4 333 C241.83 334.45 241.97 335.77 242.6 338.5 C243.23 341.23 244.2 345.9 245.2 349.4 C246.2 352.9 247.47 356.3 248.6 359.5 C249.73 362.7 250.88 365.77 252 368.6 C253.12 371.43 254.18 374.25 255.3 376.5 C256.42 378.75 257.75 380.22 258.7 382.1 C259.65 383.98 260.25 385.73 261 387.8 C261.75 389.87 262.27 392.25 263.2 394.5 C264.13 396.75 265.28 399.22 266.6 401.3 C267.92 403.38 269.4 405.12 271.1 407 C272.8 408.88 274.53 410.92 276.8 412.6 C279.07 414.28 281.88 415.78 284.7 417.1 C287.52 418.42 290.68 419.55 293.7 420.5 C296.72 421.45 299.78 422.18 302.8 422.8 C305.82 423.42 309.6 423.93 311.8 424.2 C314 424.47 314.57 424.13 316 424.4 C317.43 424.67 318.97 425 320.4 425.8 C321.83 426.6 323 428.17 324.6 429.2 C326.2 430.23 328.22 431.13 330 432 C331.78 432.87 333.47 433.4 335.3 434.4 C337.13 435.4 338.88 436.58 341 438 C343.12 439.42 346.08 441.4 348 442.9 C349.92 444.4 351.07 445.62 352.5 447 C353.93 448.38 355.35 450.1 356.6 451.2 C357.85 452.3 358.85 453.03 360 453.6 C361.15 454.17 361.83 454.48 363.5 454.6 C365.17 454.72 367.58 454.47 370 454.3 C372.42 454.13 375 453.85 378 453.6 C381 453.35 384.83 452.97 388 452.8 C391.17 452.63 394.33 452.57 397 452.6 C399.67 452.63 401.83 452.73 404 453 C406.17 453.27 408.5 453.7 410 454.2 C411.5 454.7 412.3 455.38 413 456 C413.7 456.62 414 457.58 414.2 457.9" fill="none" stroke="#111" stroke-width="1.45" stroke-linejoin="round"/>
<g clip-path="url(#cl0)"><path d="M192.51 42.87 L194.61 42.91 L193.41 51.08 Z" fill="#810610"/>
<path d="M182.99 81.08 L185.08 81.17 L183.67 90.44 Z" fill="#910a12"/>
<path d="M143.2 100.16 L145.29 100.34 L143.47 108.82 Z" fill="#7d0510"/>
<path d="M176.12 142.05 L177.93 143.12 L172.04 151 Z" fill="#c6171c"/>
<path d="M195.51 160.15 L196.26 162.11 L187.15 164.43 Z" fill="#fb7050"/>
<path d="M219.68 39.55 L221.78 39.56 L220.7 47.57 Z" fill="#850711"/>
<path d="M209.89 70.79 L211.99 70.83 L210.77 80.62 Z" fill="#980c13"/>
<path d="M165.64 141.67 L167.48 142.67 L163.08 148.58 Z" fill="#b21218"/>
<path d="M153.55 110.28 L155.64 110.53 L153.66 118.29 Z" fill="#880811"/>
<path d="M191.56 82.99 L193.66 83.06 L192.35 90.31 Z" fill="#990c13"/>
<path d="M195.12 88.83 L197.22 88.92 L195.73 99.06 Z" fill="#a30f15"/>
<path d="M164.76 110.34 L166.85 110.58 L164.79 119.28 Z" fill="#950b13"/>
<path d="M176.06 72.1 L178.16 72.17 L176.76 81.98 Z" fill="#870811"/>
<path d="M205.48 124.61 L207.54 125.03 L204.47 134.93 Z" fill="#d92523"/>
<path d="M184.77 149.74 L186.3 151.18 L180.38 155.9 Z" fill="#e53128"/>
<path d="M199.12 70.45 L201.22 70.5 L199.94 80.51 Z" fill="#940b13"/>
<path d="M220.01 49.38 L222.11 49.39 L221.02 56.65 Z" fill="#890811"/>
<path d="M174.49 132.78 L176.48 133.44 L172.51 142.03 Z" fill="#b81419"/>
<path d="M151.06 97.17 L153.16 97.34 L151.33 106.92 Z" fill="#810610"/>
<path d="M142.07 121.48 L144.13 121.88 L141.47 129.93 Z" fill="#830711"/>
<path d="M202.39 108.14 L204.48 108.32 L202.56 118.19 Z" fill="#bc141a"/>
<path d="M186.74 92.9 L188.84 93.01 L187.28 102.56 Z" fill="#9f0e14"/>
<path d="M212.97 159.76 L213.76 161.71 L205.24 164.03 Z" fill="#fca082"/>
<path d="M178.34 121.11 L180.41 121.46 L177.99 129.25 Z" fill="#b11217"/>
<path d="M170.95 121.89 L173.01 122.26 L170.6 129.65 Z" fill="#a81016"/>
<path d="M144.97 93.04 L147.06 93.19 L145.47 100.54 Z" fill="#7c0510"/>
<path d="M209.59 147.6 L211.21 148.93 L204.75 155.15 Z" fill="#fb6c4c"/>
<path d="M161.51 87.86 L163.61 87.98 L162.05 96.76 Z" fill="#840711"/>
<path d="M171.14 150.94 L172.58 152.47 L166.19 157.05 Z" fill="#c6171c"/>
<path d="M157.82 97.06 L159.91 97.22 L158.2 105.98 Z" fill="#860711"/>
<path d="M187.36 68.41 L189.46 68.47 L188.21 75.89 Z" fill="#8b0912"/>
<path d="M218.47 124.55 L220.54 124.93 L218.04 132.76 Z" fill="#df2b25"/>
<path d="M181.7 114.36 L183.78 114.62 L181.56 123.72 Z" fill="#af1117"/>
<path d="M214.65 136.63 L216.61 137.36 L212.95 144.19 Z" fill="#f34935"/>
<path d="M171.01 85.71 L173.11 85.82 L171.62 94.6 Z" fill="#8a0912"/>
<path d="M147.23 117.39 L149.31 117.72 L147.06 125.08 Z" fill="#850711"/>
<path d="M146.73 80.46 L148.83 80.58 L147.21 90.49 Z" fill="#7b0510"/>
<path d="M189.43 53.1 L191.53 53.14 L190.31 60.99 Z" fill="#840711"/>
<path d="M159.31 78.25 L161.41 78.35 L159.87 88.42 Z" fill="#800610"/>
<path d="M177.28 96.31 L179.38 96.44 L177.68 106.45 Z" fill="#990c13"/>
<path d="M166.82 67.27 L168.92 67.35 L167.49 77.54 Z" fill="#800610"/>
<path d="M207.38 54.7 L209.48 54.73 L208.32 62.8 Z" fill="#8b0912"/>
<path d="M182.28 52.1 L184.38 52.15 L183.1 61.47 Z" fill="#820610"/>
<path d="M186.69 165.2 L187.04 167.27 L179.54 167.47 Z" fill="#f85f43"/>
<path d="M153.85 134.36 L155.81 135.12 L151.13 144.31 Z" fill="#980c13"/>
<path d="M184.3 135.72 L186.26 136.48 L181.88 144.84 Z" fill="#cd1a1e"/>
<path d="M160.45 125.22 L162.5 125.67 L159.91 132.59 Z" fill="#9b0d14"/>
<path d="M218.14 92.72 L220.24 92.79 L218.93 100.38 Z" fill="#af1117"/>
<path d="M221.05 166.65 L221.29 168.73 L213.69 168.55 Z" fill="#fdccb8"/>
<path d="M217.97 81.47 L220.07 81.52 L218.85 89.79 Z" fill="#a50f15"/>
<path d="M208.54 95.71 L210.64 95.81 L209.1 105.9 Z" fill="#b01217"/>
<path d="M194.7 138.35 L196.61 139.22 L191.65 147.6 Z" fill="#e53128"/>
<path d="M200.95 96.48 L203.05 96.59 L201.58 104.75 Z" fill="#ad1117"/>
<path d="M176.78 159.95 L177.53 161.91 L168.04 164.4 Z" fill="#de2b25"/>
<path d="M198.68 56.26 L200.78 56.29 L199.6 63.51 Z" fill="#890811"/>
<path d="M152.65 142.39 L154.44 143.48 L148.92 150.56 Z" fill="#9c0d14"/>
<path d="M159.21 71.9 L161.31 72 L159.9 80.37 Z" fill="#7e0610"/>
<path d="M152.47 154.84 L153.64 156.58 L146.89 159.88 Z" fill="#a50f15"/>
<path d="M167.88 92.91 L169.98 93.04 L168.29 103.05 Z" fill="#8c0912"/>
<path d="M180.31 103.06 L182.4 103.22 L180.62 112.38 Z" fill="#a30f15"/>
<path d="M174.94 56.43 L177.04 56.49 L175.69 66.79 Z" fill="#800610"/>
<path d="M165.62 101.3 L167.71 101.47 L165.91 110.57 Z" fill="#8f0a12"/>
<path d="M147.34 106.86 L149.43 107.09 L147.38 116.08 Z" fill="#820610"/>
<path d="M189.47 100.42 L191.56 100.56 L190.02 108.08 Z" fill="#a81016"/>
<path d="M199.76 149.49 L201.28 150.93 L194.53 156.52 Z" fill="#f75c41"/>
<path d="M216.87 66.72 L218.97 66.74 L217.8 76.76 Z" fill="#960b13"/>
<path d="M152.04 127.54 L154.07 128.07 L150.8 136.48 Z" fill="#910a12"/>
<path d="M161.41 160.95 L162.08 162.94 L153.02 164.89 Z" fill="#b91419"/>
<path d="M223.14 143.27 L224.95 144.34 L219.66 151.26 Z" fill="#fb694a"/>
<path d="M151.74 90.27 L153.83 90.4 L152.24 98.65 Z" fill="#7f0610"/>
<path d="M186.49 126.31 L188.55 126.75 L186 133.6 Z" fill="#c2161b"/>
<path d="M188.26 157.19 L189.26 159.04 L181.83 161.88 Z" fill="#f44d37"/>
<path d="M200.26 165.77 L200.57 167.85 L192.71 167.94 Z" fill="#fc9576"/>
<path d="M197.61 117.69 L199.69 117.97 L197.65 125.25 Z" fill="#c3161b"/>
<path d="M171.98 79.65 L174.08 79.74 L172.72 87.06 Z" fill="#880811"/>
<path d="M145.35 130.53 L147.35 131.16 L143.49 139.99 Z" fill="#8a0811"/>
<path d="M211.65 120.84 L213.73 121.18 L211.04 131.21 Z" fill="#d62322"/>
<path d="M219.67 105.02 L221.77 105.16 L220.1 114.47 Z" fill="#be151a"/>
<path d="M201.69 140 L203.56 140.94 L198.22 149.24 Z" fill="#f14331"/>
<path d="M195.9 125.07 L197.96 125.48 L195.39 132.98 Z" fill="#cd1a1e"/>
<path d="M212.8 58.81 L214.9 58.83 L213.74 68.7 Z" fill="#8f0a12"/>
<path d="M224.21 158.52 L225.11 160.41 L217.08 163.07 Z" fill="#fca88b"/>
<path d="M161.58 152.26 L162.89 153.91 L154.5 159.25 Z" fill="#b21218"/>
<path d="M164.05 131.07 L166.06 131.66 L162.79 138.98 Z" fill="#a70f15"/>
<path d="M179.67 62.41 L181.77 62.47 L180.49 70.58 Z" fill="#840711"/>
<path d="M172.95 102.25 L175.05 102.42 L173.28 111.16 Z" fill="#980c13"/>
<path d="M211.04 36.33 L213.14 36.34 L212.03 44.24 Z" fill="#830711"/>
<path d="M192.09 73.56 L194.19 73.61 L192.92 81.6 Z" fill="#910a12"/>
<path d="M170.59 62.2 L172.69 62.27 L171.32 71.72 Z" fill="#800610"/>
<path d="M219.2 73.78 L221.3 73.81 L220.11 83.48 Z" fill="#9d0d14"/>
<path d="M206.67 62.77 L208.76 62.8 L207.55 73.08 Z" fill="#910a12"/>
<path d="M216.74 150.3 L218.21 151.79 L210.88 157.55 Z" fill="#fc8060"/>
<path d="M200.47 37.45 L202.57 37.48 L201.41 45.77 Z" fill="#820610"/>
<path d="M218.58 114.6 L220.67 114.82 L218.69 123.34 Z" fill="#cd1a1e"/>
<path d="M203.48 43.32 L205.58 43.34 L204.42 52.38 Z" fill="#850711"/>
<path d="M170.58 165.35 L170.91 167.42 L161.79 167.79 Z" fill="#d52221"/>
<path d="M188.49 114.28 L190.57 114.55 L188.27 124.42 Z" fill="#b61319"/>
<path d="M192.59 59.8 L194.69 59.85 L193.45 68.81 Z" fill="#890811"/>
<path d="M164.26 59.16 L166.36 59.24 L164.95 69.42 Z" fill="#7d0510"/>
<path d="M173.59 110.04 L175.67 110.27 L173.69 118.81 Z" fill="#a10e14"/>
<path d="M177.67 47.24 L179.77 47.29 L178.5 55.87 Z" fill="#7e0610"/>
<path d="M214.3 167.89 L214.45 169.99 L207.1 169.44 Z" fill="#fdc8b3"/>
<path d="M211.32 106.67 L213.42 106.83 L211.76 114.95 Z" fill="#be151a"/>
<path d="M152.01 167.36 L152.19 169.45 L143.41 169.13 Z" fill="#ab1016"/>
<path d="M204.18 102.95 L206.27 103.08 L204.76 110.24 Z" fill="#b51318"/>
<path d="M160.85 117.93 L162.92 118.26 L160.53 126.58 Z" fill="#960b13"/>
<path d="M204.38 160 L205.16 161.94 L197.75 163.8 Z" fill="#fc8c6c"/>
<path d="M209.67 115.08 L211.76 115.32 L209.81 123.19 Z" fill="#c9181d"/>
<path d="M210.17 44.42 L212.27 44.44 L211.12 54.42 Z" fill="#870811"/>
<path d="M194.79 130.43 L196.81 131.01 L193.03 140.41 Z" fill="#d62322"/>
<path d="M153.94 120.08 L156.01 120.45 L153.67 127.71 Z" fill="#8e0912"/>
<path d="M203.23 84.27 L205.33 84.34 L203.99 93.35 Z" fill="#a30f15"/>
<path d="M167.09 53.2 L169.19 53.27 L167.86 61.96 Z" fill="#7c0510"/>
<path d="M177.63 150.87 L179.09 152.38 L173.06 156.74 Z" fill="#d52221"/>
<path d="M140.93 113.88 L143.01 114.18 L140.81 122.09 Z" fill="#7f0610"/>
<path d="M165.83 74.87 L167.93 74.96 L166.51 83.79 Z" fill="#820710"/>
<path d="M205.6 78.21 L207.7 78.26 L206.44 86.77 Z" fill="#9d0d14"/>
<path d="M192.37 145.59 L194.07 146.82 L187.95 153.5 Z" fill="#ef3b2c"/>
<path d="M152.42 75.73 L154.52 75.83 L153.11 83.18 Z" fill="#7c0510"/>
<path d="M212.44 88.49 L214.53 88.55 L213.19 97.65 Z" fill="#aa1016"/>
<path d="M197.97 79.62 L200.07 79.68 L198.75 88.77 Z" fill="#9b0d14"/>
<path d="M158.02 65.44 L160.12 65.53 L158.75 73.27 Z" fill="#7c0510"/>
<path d="M222.27 132.08 L224.29 132.66 L220.8 141 Z" fill="#f03f2f"/>
<path d="M181.27 88.01 L183.37 88.11 L181.83 98.19 Z" fill="#950b13"/>
<path d="M195.26 105.6 L197.36 105.77 L195.49 115.66 Z" fill="#b31218"/>
<path d="M184.85 45.46 L186.95 45.51 L185.7 54.63 Z" fill="#800610"/>
<path d="M220.72 58.04 L222.82 58.05 L221.71 66.88 Z" fill="#8f0a12"/>
<path d="M213.72 128.94 L215.75 129.44 L212.44 138.47 Z" fill="#e83429"/>
<path d="M209.41 140.43 L211.29 141.36 L206.53 148.64 Z" fill="#f5513a"/>
<path d="M201.82 132.23 L203.83 132.84 L200.06 141.55 Z" fill="#e33027"/>
<path d="M177.92 127.82 L179.96 128.32 L176.94 136.2 Z" fill="#b81319"/>
<path d="M183.92 74.42 L186.02 74.49 L184.68 83.39 Z" fill="#8d0912"/>
<path d="M186.46 106.72 L188.55 106.91 L186.65 116.29 Z" fill="#ac1117"/>
<path d="M198.02 48.1 L200.12 48.14 L198.93 57.16 Z" fill="#850711"/>
<path d="M180.31 167.34 L180.49 169.44 L171.33 169.16 Z" fill="#f24633"/>
<path d="M199.31 63.29 L201.41 63.34 L200.2 71.72 Z" fill="#8e0912"/>
<path d="M147.58 147.79 L149.17 149.16 L142.94 154.76 Z" fill="#960b13"/>
<path d="M159.61 145.22 L161.3 146.46 L154.98 153.31 Z" fill="#ab1016"/>
<path d="M224.2 150.97 L225.65 152.49 L218.71 157.68 Z" fill="#fc8767"/>
<path d="M159.43 104.84 L161.52 105.04 L159.65 113.49 Z" fill="#8b0912"/>
<path d="M159.98 137.48 L161.9 138.32 L157.58 145.59 Z" fill="#a60f15"/>
<path d="M221.62 98.94 L223.72 99.03 L222.3 107.09 Z" fill="#b61319"/>
<path d="M213.74 51.14 L215.84 51.16 L214.71 60.32 Z" fill="#8a0912"/>
<path d="M216.06 142.86 L217.86 143.94 L211.84 151.95 Z" fill="#fa6547"/>
<path d="M167.8 157.25 L168.79 159.1 L161.41 161.86 Z" fill="#c5171c"/>
<path d="M153.8 83.45 L155.89 83.57 L154.33 92.74 Z" fill="#7e0610"/></g>
<path d="M311.8 425.6 C312.5 422.8 315 421.8 317 422 C319.5 422.4 321 424.5 321.5 427 C319 430.5 314 430.6 311.8 428Z" fill="#b3261c"/>
<path d="M311 425.4 C312.5 422.6 315 421.6 317 421.8 C319.5 422.2 321 424 322 426.6" fill="none" stroke="#111" stroke-width="1.3"/>
<path d="M321.8 209.6 A3.2 1.7 0 0 1 328.2 209.6" fill="#b3261c" stroke="#111" stroke-width="1.0"/>
<path d="M329.1 209.6 A3.2 1.7 0 0 1 335.5 209.6" fill="#b3261c" stroke="#111" stroke-width="1.0"/>
<path d="M336.4 209.6 A3.2 1.7 0 0 1 342.8 209.6" fill="#b3261c" stroke="#111" stroke-width="1.0"/>
<path d="M343.7 209.6 A3.2 1.7 0 0 1 350.1 209.6" fill="#b3261c" stroke="#111" stroke-width="1.0"/>
<path d="M350.8 209.6 A3.2 1.7 0 0 1 357.2 209.6" fill="#b3261c" stroke="#111" stroke-width="1.0"/>
<path d="M358.3 209.6 A3.2 1.7 0 0 1 364.7 209.6" fill="#b3261c" stroke="#111" stroke-width="1.0"/>
<path d="M365.3 209.6 A3.2 1.7 0 0 1 371.7 209.6" fill="#b3261c" stroke="#111" stroke-width="1.0"/>
<path d="M372.8 209.6 A3.2 1.7 0 0 1 379.2 209.6" fill="#b3261c" stroke="#111" stroke-width="1.0"/>
<path d="M76.5 209 A3.5 1.3 0 0 1 83.5 209" fill="#3659d4" stroke="#111" stroke-width="1.0"/>
<path d="M83.5 209 A3.5 1.3 0 0 1 90.5 209" fill="#3659d4" stroke="#111" stroke-width="1.0"/>
<path d="M90.5 209 A3.5 1.3 0 0 1 97.5 209" fill="#3659d4" stroke="#111" stroke-width="1.0"/>
<path d="M97.5 209 A3.5 1.3 0 0 1 104.5 209" fill="#3659d4" stroke="#111" stroke-width="1.0"/>
<path d="M104.5 209 A3.5 1.3 0 0 1 111.5 209" fill="#3659d4" stroke="#111" stroke-width="1.0"/>
<path d="M111.5 209 A3.5 1.3 0 0 1 118.5 209" fill="#3659d4" stroke="#111" stroke-width="1.0"/>
<path d="M118.5 209 A3.5 1.3 0 0 1 125.5 209" fill="#3659d4" stroke="#111" stroke-width="1.0"/>
<path d="M125.5 209 A3.5 1.3 0 0 1 132.5 209" fill="#3659d4" stroke="#111" stroke-width="1.0"/>
<path d="M223.6 229.2 A2.4 2.28 0 0 1 228.4 229.2" fill="#eeeeee" stroke="#111" stroke-width="1.1"/>
<path d="M231 229.2 A2 1.9 0 0 1 235 229.2" fill="#eeeeee" stroke="#111" stroke-width="1.1"/>
<path d="M237.8 229.2 A2.2 2.09 0 0 1 242.2 229.2" fill="#eeeeee" stroke="#111" stroke-width="1.1"/>
<path d="M216.8 267.6 A2.2 2.09 0 0 1 221.2 267.6" fill="#eeeeee" stroke="#111" stroke-width="1.1"/>
<path d="M223.6 267.6 A2.4 2.28 0 0 1 228.4 267.6" fill="#eeeeee" stroke="#111" stroke-width="1.1"/>
<path d="M231.8 267.6 A2.2 2.09 0 0 1 236.2 267.6" fill="#eeeeee" stroke="#111" stroke-width="1.1"/>
<path d="M220.7 308.2 A3.3 3.13 0 0 1 227.3 308.2" fill="#eeeeee" stroke="#111" stroke-width="1.1"/>
<path d="M236.3 308.2 A2.9 2.75 0 0 1 242.1 308.2" fill="#eeeeee" stroke="#111" stroke-width="1.1"/>
<path d="M200.2 457.9 A3 2.85 0 0 1 206.2 457.9" fill="#eeeeee" stroke="#111" stroke-width="1.1"/>
<path d="M216.2 457.9 A2.8 2.66 0 0 1 221.8 457.9" fill="#eeeeee" stroke="#111" stroke-width="1.1"/>
<path d="M220.7 457.9 A2.8 2.66 0 0 1 226.3 457.9" fill="#eeeeee" stroke="#111" stroke-width="1.1"/>
<path d="M235.7 457.9 A3 2.85 0 0 1 241.7 457.9" fill="#eeeeee" stroke="#111" stroke-width="1.1"/>
<line x1="14" y1="170.9" x2="432" y2="170.9" stroke="#1c1c1c" stroke-width="1.7"/>
<line x1="14" y1="229.2" x2="432" y2="229.2" stroke="#1c1c1c" stroke-width="1.7"/>
<line x1="14" y1="267.6" x2="432" y2="267.6" stroke="#1c1c1c" stroke-width="1.7"/>
<line x1="14" y1="308.2" x2="432" y2="308.2" stroke="#1c1c1c" stroke-width="1.7"/>
<line x1="14" y1="457.9" x2="432" y2="457.9" stroke="#1c1c1c" stroke-width="1.7"/>
<line x1="14.1" y1="37" x2="14.1" y2="473" stroke="#2b2b2b" stroke-width="2"/>
<path d="M8.2 469.8 L14.1 473.3 L19.9 469.8 L14.1 483.6Z" fill="#111"/>
<text x="20.3" y="487.5" font-size="11" text-anchor="start" font-style="italic">t</text>
<text x="-1.2" y="9.9" font-size="14" font-weight="bold">a</text>
<rect x="58.4" y="44.3" width="10" height="119.9" fill="url(#gReds)" stroke="#444" stroke-width="0.8"/>
<text x="74.6" y="168.7" font-size="11" text-anchor="start" >0</text>
<line x1="66.4" y1="149.21" x2="68.4" y2="149.21" stroke="#333" stroke-width="0.8"/>
<text x="74.6" y="153.71" font-size="11" text-anchor="start" >0.1</text>
<line x1="66.4" y1="134.22" x2="68.4" y2="134.22" stroke="#333" stroke-width="0.8"/>
<text x="74.6" y="138.72" font-size="11" text-anchor="start" >0.2</text>
<line x1="66.4" y1="119.24" x2="68.4" y2="119.24" stroke="#333" stroke-width="0.8"/>
<text x="74.6" y="123.74" font-size="11" text-anchor="start" >0.3</text>
<line x1="66.4" y1="104.25" x2="68.4" y2="104.25" stroke="#333" stroke-width="0.8"/>
<text x="74.6" y="108.75" font-size="11" text-anchor="start" >0.4</text>
<line x1="66.4" y1="89.26" x2="68.4" y2="89.26" stroke="#333" stroke-width="0.8"/>
<text x="74.6" y="93.76" font-size="11" text-anchor="start" >0.5</text>
<line x1="66.4" y1="74.27" x2="68.4" y2="74.27" stroke="#333" stroke-width="0.8"/>
<text x="74.6" y="78.77" font-size="11" text-anchor="start" >0.6</text>
<line x1="66.4" y1="59.29" x2="68.4" y2="59.29" stroke="#333" stroke-width="0.8"/>
<text x="74.6" y="63.79" font-size="11" text-anchor="start" >0.7</text>
<text x="74.6" y="48.8" font-size="11" text-anchor="start" >0.8</text>
<text x="45" y="35.6" font-size="11" text-anchor="start" ><tspan font-style="italic">u</tspan> (m s<tspan font-size="6.6" dy="-4.18">-1</tspan><tspan dy="4.18" font-size="11">&#8203;</tspan>)</text>
<rect x="103.5" y="26.9" width="17.5" height="10" fill="#3f51b5"/>
<rect x="103.5" y="44.5" width="17.5" height="10.3" fill="#5dcfc7"/>
<text x="128.2" y="35.7" font-size="11" text-anchor="start" >Silicone oil</text>
<text x="128.2" y="53.2" font-size="11" text-anchor="start" >Water</text>
<rect x="363.7" y="44.7" width="9.9" height="119.7" fill="url(#gCW)" stroke="#444" stroke-width="0.8"/>
<line x1="371.6" y1="144.45" x2="373.6" y2="144.45" stroke="#333" stroke-width="0.8"/>
<text x="377.2" y="148.35" font-size="11" text-anchor="start" >1</text>
<line x1="371.6" y1="124.5" x2="373.6" y2="124.5" stroke="#333" stroke-width="0.8"/>
<text x="377.2" y="128.4" font-size="11" text-anchor="start" >2</text>
<line x1="371.6" y1="104.55" x2="373.6" y2="104.55" stroke="#333" stroke-width="0.8"/>
<text x="377.2" y="108.45" font-size="11" text-anchor="start" >3</text>
<line x1="371.6" y1="84.6" x2="373.6" y2="84.6" stroke="#333" stroke-width="0.8"/>
<text x="377.2" y="88.5" font-size="11" text-anchor="start" >4</text>
<line x1="371.6" y1="64.65" x2="373.6" y2="64.65" stroke="#333" stroke-width="0.8"/>
<text x="377.2" y="68.55" font-size="11" text-anchor="start" >5</text>
<text x="332.2" y="35.5" font-size="11" text-anchor="start" ><tspan font-style="italic">&#981;</tspan> (J m<tspan font-size="6.6" dy="-4.18">-3</tspan><tspan dy="4.18" font-size="11">&#8203;</tspan> s<tspan font-size="6.6" dy="-4.18">-1</tspan><tspan dy="4.18" font-size="11">&#8203;</tspan>) &#215;10<tspan font-size="6.6" dy="-4.18">4</tspan><tspan dy="4.18" font-size="11">&#8203;</tspan></text>
<text x="405" y="165" font-size="11" text-anchor="start" >0.5 ms</text>
<text x="405.3" y="224" font-size="11" text-anchor="start" >3 ms</text>
<text x="405" y="242" font-size="11" text-anchor="start" >5.5 ms</text>
<text x="405.2" y="296.3" font-size="11" text-anchor="start" >9.5 ms</text>
<text x="405.6" y="446.1" font-size="11" text-anchor="start" >12.5 ms</text>
<text x="344.9" y="354.5" font-size="11" text-anchor="start" ><tspan font-style="italic">U</tspan><tspan font-size="6.6" dy="2.75">i</tspan><tspan dy="-2.75" font-size="11">&#8203;</tspan> = 0.8 m s<tspan font-size="6.6" dy="-4.18">-1</tspan><tspan dy="4.18" font-size="11">&#8203;</tspan></text>
<text x="344.9" y="367.6" font-size="11" text-anchor="start" ><tspan font-style="italic">D</tspan><tspan font-size="6.6" dy="2.75">0</tspan><tspan dy="-2.75" font-size="11">&#8203;</tspan> = 2.0 mm</text>
<text x="344.9" y="380.7" font-size="11" text-anchor="start" ><tspan font-style="italic">&#956;</tspan><tspan font-size="6.6" dy="2.75">o</tspan><tspan dy="-2.75" font-size="11">&#8203;</tspan> = 100 mPa s</text>
<text x="344.9" y="393.8" font-size="11" text-anchor="start" ><tspan font-style="italic">c</tspan> = 100 &#181;m</text>
<rect x="551.7" y="16.6" width="240.8" height="193.6" fill="none" stroke="#222" stroke-width="1.1"/>
<text x="551.7" y="223.8" font-size="11" text-anchor="middle" >0</text>
<line x1="581.8" y1="210.2" x2="581.8" y2="207.4" stroke="#222" stroke-width="1.1"/>
<line x1="611.9" y1="210.2" x2="611.9" y2="206.2" stroke="#222" stroke-width="1.1"/>
<text x="611.9" y="223.8" font-size="11" text-anchor="middle" >5</text>
<line x1="642" y1="210.2" x2="642" y2="207.4" stroke="#222" stroke-width="1.1"/>
<line x1="672.1" y1="210.2" x2="672.1" y2="206.2" stroke="#222" stroke-width="1.1"/>
<text x="672.1" y="223.8" font-size="11" text-anchor="middle" >10</text>
<line x1="702.2" y1="210.2" x2="702.2" y2="207.4" stroke="#222" stroke-width="1.1"/>
<line x1="732.3" y1="210.2" x2="732.3" y2="206.2" stroke="#222" stroke-width="1.1"/>
<text x="732.3" y="223.8" font-size="11" text-anchor="middle" >15</text>
<line x1="762.4" y1="210.2" x2="762.4" y2="207.4" stroke="#222" stroke-width="1.1"/>
<text x="792.5" y="223.8" font-size="11" text-anchor="middle" >20</text>
<text x="547.2" y="213.6" font-size="11" text-anchor="end" >0</text>
<line x1="551.7" y1="177.93" x2="554.5" y2="177.93" stroke="#222" stroke-width="1.1"/>
<line x1="551.7" y1="145.67" x2="555.7" y2="145.67" stroke="#222" stroke-width="1.1"/>
<text x="547.2" y="149.07" font-size="11" text-anchor="end" >500</text>
<line x1="551.7" y1="113.4" x2="554.5" y2="113.4" stroke="#222" stroke-width="1.1"/>
<line x1="551.7" y1="81.13" x2="555.7" y2="81.13" stroke="#222" stroke-width="1.1"/>
<text x="547.2" y="84.53" font-size="11" text-anchor="end" >1000</text>
<line x1="551.7" y1="48.87" x2="554.5" y2="48.87" stroke="#222" stroke-width="1.1"/>
<text x="547.2" y="20" font-size="11" text-anchor="end" >1500</text>
<text x="671.6" y="236.6" font-size="11" text-anchor="middle" ><tspan font-style="italic">t</tspan> (ms)</text>
<g transform="translate(508.2 159.5) rotate(-90)">
<text x="0" y="0" font-size="11"><tspan font-size="18">&#8747;</tspan> (<tspan font-style="italic">&#961;</tspan><tspan font-size="6.6" dy="2.75">w</tspan><tspan dy="-2.75" font-size="11">&#8203;</tspan><tspan font-style="italic">u</tspan><tspan font-size="6.6" dy="-4.18">2</tspan><tspan dy="4.18" font-size="11">&#8203;</tspan>/2) d&#8202;<tspan font-style="italic">V</tspan> (nJ)</text>
<text x="0.2" y="11.7" font-size="8" font-style="italic">V</text>
<text x="5" y="13.3" font-size="5">w</text>
</g>
<text x="477.8" y="9.7" font-size="14" font-weight="bold">b</text>
<g clip-path="url(#clipB)">
<path d="M551.8 38.2 C551.93 40.5 552.27 47.37 552.6 52 C552.93 56.63 553.37 61.12 553.8 66 C554.23 70.88 554.67 76.47 555.2 81.3 C555.73 86.13 556.33 91.22 557 95 C557.67 98.78 558.37 101 559.2 104 C560.03 107 560.87 109.17 562 113 C563.13 116.83 564.73 122.12 566 127 C567.27 131.88 567.93 136.15 569.6 142.3 C571.27 148.45 573.85 157.37 576 163.9 C578.15 170.43 580.7 177.78 582.5 181.5 C584.3 185.22 585.55 185.48 586.8 186.2 C588.05 186.92 588.92 186.28 590 185.8 C591.08 185.32 592.05 184.93 593.3 183.3 C594.55 181.67 596.07 178.52 597.5 176 C598.93 173.48 600.65 170.7 601.9 168.2 C603.15 165.7 604.1 162.8 605 161 C605.9 159.2 606.02 158.35 607.3 157.4 C608.58 156.45 610.48 156.15 612.7 155.3 C614.92 154.45 618.38 152.35 620.6 152.3 C622.82 152.25 624.02 153.77 626 155 C627.98 156.23 629.1 157.32 632.5 159.7 C635.9 162.08 641.47 166.4 646.4 169.3 C651.33 172.2 657.15 175.15 662.1 177.1 C667.05 179.05 671.45 180.03 676.1 181 C680.75 181.97 685.63 182.67 690 182.9 C694.37 183.13 699.52 182.55 702.3 182.4 C705.08 182.25 704.42 182.55 706.7 182 C708.98 181.45 713.12 179.8 716 179.1 C718.88 178.4 721.33 177.75 724 177.8 C726.67 177.85 729.77 178.97 732 179.4 C734.23 179.83 734.95 179.4 737.4 180.4 C739.85 181.4 743.58 183.68 746.7 185.4 C749.82 187.12 753.42 189.52 756.1 190.7 C758.78 191.88 760.13 192.38 762.8 192.5 C765.47 192.62 769 191.92 772.1 191.4 C775.2 190.88 778.95 189.63 781.4 189.4 C783.85 189.17 785.02 189.67 786.8 190 C788.58 190.33 791.22 191.17 792.1 191.4" fill="none" stroke="#5582cc" stroke-width="1.3" stroke-linejoin="round"/>
<path d="M551.8 38.2 C551.93 40.5 552.27 47.37 552.6 52 C552.93 56.63 553.37 61.12 553.8 66 C554.23 70.88 554.58 76.47 555.2 81.3 C555.82 86.13 556.7 91.22 557.5 95 C558.3 98.78 559.08 101 560 104 C560.92 107 561.4 108.4 563 113 C564.6 117.6 567.07 124.92 569.6 131.6 C572.13 138.28 575.33 146.28 578.2 153.1 C581.07 159.92 583.93 166.4 586.8 172.5 C589.67 178.6 592.53 185.75 595.4 189.7 C598.27 193.65 601.12 194.75 604 196.2 C606.88 197.65 610.37 198.23 612.7 198.4 C615.03 198.57 616.17 197.83 618 197.2 C619.83 196.57 621.28 196.5 623.7 194.6 C626.12 192.7 629.58 188.07 632.5 185.8 C635.42 183.53 639.17 181.87 641.2 181 C643.23 180.13 642.38 180.08 644.7 180.6 C647.02 181.12 651.32 182.78 655.1 184.1 C658.88 185.42 663.32 186.62 667.4 188.5 C671.48 190.38 675.25 192.93 679.6 195.4 C683.95 197.87 689.13 201.4 693.5 203.3 C697.87 205.2 702.22 206.17 705.8 206.8 C709.38 207.43 712.63 207.05 715 207.1 C717.37 207.15 717.17 207.38 720 207.1 C722.83 206.82 728.22 206.13 732 205.4 C735.78 204.67 738.92 203.48 742.7 202.7 C746.48 201.92 751.35 200.92 754.7 200.7 C758.05 200.48 760.12 200.73 762.8 201.4 C765.48 202.07 767.92 203.65 770.8 204.7 C773.68 205.75 776.55 206.98 780.1 207.7 C783.65 208.42 790.1 208.78 792.1 209" fill="none" stroke="#f5a42c" stroke-width="1.3" stroke-linejoin="round"/>
<path d="M551.8 38.2 C551.9 40.5 552.15 47.37 552.4 52 C552.65 56.63 553 61.12 553.3 66 C553.6 70.88 553.75 76.47 554.2 81.3 C554.65 86.13 555.23 90.22 556 95 C556.77 99.78 557.27 102.83 558.8 110 C560.33 117.17 563.05 130.45 565.2 138 C567.35 145.55 569.18 150.27 571.7 155.3 C574.22 160.33 577.92 164.92 580.3 168.2 C582.68 171.48 584.2 172.85 586 175 C587.8 177.15 589.43 179.52 591.1 181.1 C592.77 182.68 594.2 183.23 596 184.5 C597.8 185.77 599.48 186.75 601.9 188.7 C604.32 190.65 607.63 194.05 610.5 196.2 C613.37 198.35 616.9 200.57 619.1 201.6 C621.3 202.63 621.47 202.85 623.7 202.4 C625.93 201.95 628.13 200.63 632.5 198.9 C636.87 197.17 644.08 193.37 649.9 192 C655.72 190.63 662.17 191 667.4 190.7 C672.63 190.4 676.95 189.7 681.3 190.2 C685.65 190.7 690.38 192.72 693.5 193.7 C696.62 194.68 697.95 195.18 700 196.1 C702.05 197.02 703.57 198.2 705.8 199.2 C708.03 200.2 710.37 200.95 713.4 202.1 C716.43 203.25 720.67 205.15 724 206.1 C727.33 207.05 730.05 207.4 733.4 207.8 C736.75 208.2 740.77 208.68 744.1 208.5 C747.43 208.32 750.52 207.55 753.4 206.7 C756.28 205.85 758.5 204.8 761.4 203.4 C764.3 202 768.13 199.15 770.8 198.3 C773.47 197.45 775.18 197.9 777.4 198.3 C779.62 198.7 781.65 199.63 784.1 200.7 C786.55 201.77 790.77 204.03 792.1 204.7" fill="none" stroke="#ec3038" stroke-width="1.3" stroke-linejoin="round"/>
</g>
<line x1="571.2" y1="33.8" x2="594" y2="33.8" stroke="#5582cc" stroke-width="1.4"/>
<text x="597" y="37.3" font-size="11" text-anchor="start" >Water</text>
<line x1="571.2" y1="47.3" x2="594" y2="47.3" stroke="#f5a42c" stroke-width="1.4"/>
<text x="597" y="50.8" font-size="11" text-anchor="start" >20 mPa s</text>
<line x1="571.2" y1="60.7" x2="594" y2="60.7" stroke="#ec3038" stroke-width="1.4"/>
<text x="597" y="64.2" font-size="11" text-anchor="start" >100 mPa s</text>
<text x="706.5" y="30.3" font-size="11" text-anchor="start" ><tspan font-style="italic">U</tspan><tspan font-size="6.6" dy="2.75">i</tspan><tspan dy="-2.75" font-size="11">&#8203;</tspan> = 0.8 m s<tspan font-size="6.6" dy="-4.18">-1</tspan><tspan dy="4.18" font-size="11">&#8203;</tspan></text>
<text x="706.5" y="43.4" font-size="11" text-anchor="start" ><tspan font-style="italic">D</tspan><tspan font-size="6.6" dy="2.75">0</tspan><tspan dy="-2.75" font-size="11">&#8203;</tspan> = 2.0 mm</text>
<text x="706.5" y="56.6" font-size="11" text-anchor="start" ><tspan font-style="italic">c</tspan> = 100 &#181;m</text>
<rect x="551.5" y="261.5" width="240.5" height="193.6" fill="none" stroke="#222" stroke-width="1.1"/>
<text x="551.5" y="468.7" font-size="11" text-anchor="middle" >0</text>
<line x1="581.56" y1="455.1" x2="581.56" y2="452.3" stroke="#222" stroke-width="1.1"/>
<line x1="611.62" y1="455.1" x2="611.62" y2="451.1" stroke="#222" stroke-width="1.1"/>
<text x="611.62" y="468.7" font-size="11" text-anchor="middle" >5</text>
<line x1="641.69" y1="455.1" x2="641.69" y2="452.3" stroke="#222" stroke-width="1.1"/>
<line x1="671.75" y1="455.1" x2="671.75" y2="451.1" stroke="#222" stroke-width="1.1"/>
<text x="671.75" y="468.7" font-size="11" text-anchor="middle" >10</text>
<line x1="701.81" y1="455.1" x2="701.81" y2="452.3" stroke="#222" stroke-width="1.1"/>
<line x1="731.88" y1="455.1" x2="731.88" y2="451.1" stroke="#222" stroke-width="1.1"/>
<text x="731.88" y="468.7" font-size="11" text-anchor="middle" >15</text>
<line x1="761.94" y1="455.1" x2="761.94" y2="452.3" stroke="#222" stroke-width="1.1"/>
<text x="792" y="468.7" font-size="11" text-anchor="middle" >20</text>
<text x="547" y="458.5" font-size="11" text-anchor="end" >0</text>
<line x1="551.5" y1="422.83" x2="554.3" y2="422.83" stroke="#222" stroke-width="1.1"/>
<line x1="551.5" y1="390.57" x2="555.5" y2="390.57" stroke="#222" stroke-width="1.1"/>
<text x="547" y="393.97" font-size="11" text-anchor="end" >500</text>
<line x1="551.5" y1="358.3" x2="554.3" y2="358.3" stroke="#222" stroke-width="1.1"/>
<line x1="551.5" y1="326.03" x2="555.5" y2="326.03" stroke="#222" stroke-width="1.1"/>
<text x="547" y="329.43" font-size="11" text-anchor="end" >1000</text>
<line x1="551.5" y1="293.77" x2="554.3" y2="293.77" stroke="#222" stroke-width="1.1"/>
<text x="547" y="264.9" font-size="11" text-anchor="end" >1500</text>
<text x="671.25" y="481.5" font-size="11" text-anchor="middle" ><tspan font-style="italic">t</tspan> (ms)</text>
<g transform="translate(508.2 404.4) rotate(-90)">
<text x="0" y="0" font-size="11"><tspan font-size="18">&#8747;</tspan> (<tspan font-style="italic">&#961;</tspan><tspan font-size="6.6" dy="2.75">w</tspan><tspan dy="-2.75" font-size="11">&#8203;</tspan><tspan font-style="italic">u</tspan><tspan font-size="6.6" dy="-4.18">2</tspan><tspan dy="4.18" font-size="11">&#8203;</tspan>/2) d&#8202;<tspan font-style="italic">V</tspan> (nJ)</text>
<text x="0.2" y="11.7" font-size="8" font-style="italic">V</text>
<text x="5" y="13.3" font-size="5">w</text>
</g>
<text x="478.1" y="261.4" font-size="14" font-weight="bold">c</text>
<path d="M551.4 283.5 C551.67 286.25 552.32 292.95 553 300 C553.68 307.05 554.58 317.47 555.5 325.8 C556.42 334.13 557.43 342.63 558.5 350 C559.57 357.37 560.57 363.58 561.9 370 C563.23 376.42 564.82 383.27 566.5 388.5 C568.18 393.73 569.85 397.25 572 401.4 C574.15 405.55 576.93 409.85 579.4 413.4 C581.87 416.95 584.63 420.53 586.8 422.7 C588.97 424.87 590.55 425.33 592.4 426.4 C594.25 427.47 596.05 427.72 597.9 429.1 C599.75 430.48 601.65 433.15 603.5 434.7 C605.35 436.25 606.92 436.8 609 438.4 C611.08 440 614 442.87 616 444.3 C618 445.73 619.08 446.83 621 447 C622.92 447.17 624.32 446.45 627.5 445.3 C630.68 444.15 636.33 441.55 640.1 440.1 C643.87 438.65 646.35 437.23 650.1 436.6 C653.85 435.97 659.05 436.55 662.6 436.3 C666.15 436.05 668.47 435.42 671.4 435.1 C674.33 434.78 677.07 434.1 680.2 434.4 C683.33 434.7 686.9 435.95 690.2 436.9 C693.5 437.85 696.73 438.85 700 440.1 C703.27 441.35 706.12 442.77 709.8 444.4 C713.48 446.03 718.4 448.57 722.1 449.9 C725.8 451.23 728.93 451.85 732 452.4 C735.07 452.95 737.65 453.2 740.5 453.2 C743.35 453.2 746.43 452.85 749.1 452.4 C751.77 451.95 754.03 451.42 756.5 450.5 C758.97 449.58 761.65 448.08 763.9 446.9 C766.15 445.72 767.95 444.07 770 443.4 C772.05 442.73 773.95 442.73 776.2 442.9 C778.45 443.07 780.87 443.33 783.5 444.4 C786.13 445.47 790.58 448.48 792 449.3" fill="none" stroke="#d84cb4" stroke-width="1.3" stroke-linejoin="round"/>
<path d="M551.4 283.5 C551.63 286.25 552.28 292.95 552.8 300 C553.32 307.05 553.88 317.47 554.5 325.8 C555.12 334.13 555.73 342.63 556.5 350 C557.27 357.37 558.05 363.58 559.1 370 C560.15 376.42 561.27 382.95 562.8 388.5 C564.33 394.05 566.15 398.98 568.3 403.3 C570.45 407.62 572.92 411.02 575.7 414.4 C578.48 417.78 582.38 421.15 585 423.6 C587.62 426.05 588.93 427.57 591.4 429.1 C593.87 430.63 597.18 431.57 599.8 432.8 C602.42 434.03 604.33 434.95 607.1 436.5 C609.87 438.05 613.83 440.47 616.4 442.1 C618.97 443.73 619.6 444.87 622.5 446.3 C625.4 447.73 630.87 449.85 633.8 450.7 C636.73 451.55 637.38 451.92 640.1 451.4 C642.82 450.88 646.35 449.03 650.1 447.6 C653.85 446.17 658 444.17 662.6 442.8 C667.2 441.43 673.1 440.38 677.7 439.4 C682.3 438.42 686.87 437.42 690.2 436.9 C693.53 436.38 694.83 436.45 697.7 436.3 C700.57 436.15 703.95 435.27 707.4 436 C710.85 436.73 714.52 439.2 718.4 440.7 C722.28 442.2 726.6 443.57 730.7 445 C734.8 446.43 739.32 448.13 743 449.3 C746.68 450.47 749.73 451.48 752.8 452 C755.87 452.52 758.53 452.43 761.4 452.4 C764.27 452.37 767.13 452.52 770 451.8 C772.87 451.08 775.93 449.23 778.6 448.1 C781.27 446.97 783.77 445.92 786 445 C788.23 444.08 791 443 792 442.6" fill="none" stroke="#e8242a" stroke-width="1.3" stroke-linejoin="round"/>
<path d="M551.4 283.5 C551.58 286.25 552.13 292.95 552.5 300 C552.87 307.05 553.18 317.47 553.6 325.8 C554.02 334.13 554.55 342.63 555 350 C555.45 357.37 555.62 363.58 556.3 370 C556.98 376.42 558.02 383.12 559.1 388.5 C560.18 393.88 561.27 398.3 562.8 402.3 C564.33 406.3 566.15 409.57 568.3 412.5 C570.45 415.43 572.92 417.73 575.7 419.9 C578.48 422.07 582.38 424.12 585 425.5 C587.62 426.88 589.87 427.13 591.4 428.2 C592.93 429.27 593.12 431.13 594.2 431.9 C595.28 432.67 595.75 432.03 597.9 432.8 C600.05 433.57 604.33 435.32 607.1 436.5 C609.87 437.68 612.03 438.67 614.5 439.9 C616.97 441.13 620.15 442.93 621.9 443.9 C623.65 444.87 623.02 444.67 625 445.7 C626.98 446.73 630.67 448.98 633.8 450.1 C636.93 451.22 640.67 452.18 643.8 452.4 C646.93 452.62 648 452.1 652.6 451.4 C657.2 450.7 665.13 449.35 671.4 448.2 C677.67 447.05 685.43 445.33 690.2 444.5 C694.97 443.67 696.73 443.73 700 443.2 C703.27 442.67 706.12 441.88 709.8 441.3 C713.48 440.72 718.2 439.7 722.1 439.7 C726 439.7 729.1 440.32 733.2 441.3 C737.3 442.28 742.4 444.3 746.7 445.6 C751 446.9 755.32 448.28 759 449.1 C762.68 449.92 765.32 450.02 768.8 450.5 C772.28 450.98 776.03 451.78 779.9 452 C783.77 452.22 789.98 451.83 792 451.8" fill="none" stroke="#5454c4" stroke-width="1.3" stroke-linejoin="round"/>
<line x1="557.5" y1="271.2" x2="579.7" y2="271.2" stroke="#d84cb4" stroke-width="1.3"/>
<text x="583.5" y="275" font-size="11" text-anchor="start" >100 &#181;m</text>
<line x1="636" y1="271.2" x2="658.2" y2="271.2" stroke="#e8242a" stroke-width="1.3"/>
<text x="662" y="275" font-size="11" text-anchor="start" >200 &#181;m</text>
<line x1="714.9" y1="271.2" x2="737.1" y2="271.2" stroke="#5454c4" stroke-width="1.3"/>
<text x="740.9" y="275" font-size="11" text-anchor="start" >300 &#181;m</text>
<text x="563.4" y="290.5" font-size="11" text-anchor="start" ><tspan font-style="italic">U</tspan><tspan font-size="6.6" dy="2.75">i</tspan><tspan dy="-2.75" font-size="11">&#8203;</tspan> = 0.8 m s<tspan font-size="6.6" dy="-4.18">-1</tspan><tspan dy="4.18" font-size="11">&#8203;</tspan>; <tspan font-style="italic">D</tspan><tspan font-size="6.6" dy="2.75">0</tspan><tspan dy="-2.75" font-size="11">&#8203;</tspan> = 2.0 mm; <tspan font-style="italic">&#956;</tspan><tspan font-size="6.6" dy="2.75">o</tspan><tspan dy="-2.75" font-size="11">&#8203;</tspan> = 100 mPa s</text>
<rect x="589.6" y="307.9" width="200.6" height="78.8" fill="#fff" stroke="#333" stroke-width="1"/>
<text x="585.6" y="389.9" font-size="9" text-anchor="end" >0</text>
<line x1="589.6" y1="380.13" x2="591.3" y2="380.13" stroke="#333" stroke-width="0.9"/>
<line x1="589.6" y1="373.57" x2="592.4" y2="373.57" stroke="#333" stroke-width="0.9"/>
<text x="585.6" y="376.77" font-size="9" text-anchor="end" >1</text>
<line x1="589.6" y1="367" x2="591.3" y2="367" stroke="#333" stroke-width="0.9"/>
<line x1="589.6" y1="360.43" x2="592.4" y2="360.43" stroke="#333" stroke-width="0.9"/>
<text x="585.6" y="363.63" font-size="9" text-anchor="end" >2</text>
<line x1="589.6" y1="353.87" x2="591.3" y2="353.87" stroke="#333" stroke-width="0.9"/>
<line x1="589.6" y1="347.3" x2="592.4" y2="347.3" stroke="#333" stroke-width="0.9"/>
<text x="585.6" y="350.5" font-size="9" text-anchor="end" >3</text>
<line x1="589.6" y1="340.73" x2="591.3" y2="340.73" stroke="#333" stroke-width="0.9"/>
<line x1="589.6" y1="334.17" x2="592.4" y2="334.17" stroke="#333" stroke-width="0.9"/>
<text x="585.6" y="337.37" font-size="9" text-anchor="end" >4</text>
<line x1="589.6" y1="327.6" x2="591.3" y2="327.6" stroke="#333" stroke-width="0.9"/>
<line x1="589.6" y1="321.03" x2="592.4" y2="321.03" stroke="#333" stroke-width="0.9"/>
<text x="585.6" y="324.23" font-size="9" text-anchor="end" >5</text>
<line x1="589.6" y1="314.47" x2="591.3" y2="314.47" stroke="#333" stroke-width="0.9"/>
<text x="585.6" y="311.1" font-size="9" text-anchor="end" >6</text>
<line x1="606.2" y1="386.7" x2="606.2" y2="383.5" stroke="#333" stroke-width="0.9"/>
<text x="606.2" y="397.4" font-size="9" text-anchor="middle" >0</text>
<line x1="627.1" y1="386.7" x2="627.1" y2="385.1" stroke="#333" stroke-width="0.9"/>
<text x="627.1" y="397.4" font-size="9" text-anchor="middle" >25</text>
<line x1="648" y1="386.7" x2="648" y2="383.5" stroke="#333" stroke-width="0.9"/>
<text x="648" y="397.4" font-size="9" text-anchor="middle" >50</text>
<line x1="668.9" y1="386.7" x2="668.9" y2="385.1" stroke="#333" stroke-width="0.9"/>
<text x="668.9" y="397.4" font-size="9" text-anchor="middle" >75</text>
<line x1="689.8" y1="386.7" x2="689.8" y2="383.5" stroke="#333" stroke-width="0.9"/>
<text x="689.8" y="397.4" font-size="9" text-anchor="middle" >100</text>
<line x1="710.7" y1="386.7" x2="710.7" y2="385.1" stroke="#333" stroke-width="0.9"/>
<text x="710.7" y="397.4" font-size="9" text-anchor="middle" >125</text>
<line x1="731.6" y1="386.7" x2="731.6" y2="383.5" stroke="#333" stroke-width="0.9"/>
<text x="731.6" y="397.4" font-size="9" text-anchor="middle" >150</text>
<line x1="752.5" y1="386.7" x2="752.5" y2="385.1" stroke="#333" stroke-width="0.9"/>
<text x="752.5" y="397.4" font-size="9" text-anchor="middle" >175</text>
<line x1="773.4" y1="386.7" x2="773.4" y2="383.5" stroke="#333" stroke-width="0.9"/>
<text x="773.4" y="397.4" font-size="9" text-anchor="middle" >200</text>
<text x="672.8" y="406.2" font-size="9" text-anchor="start" ><tspan font-style="italic">c</tspan> (&#181;m)</text>
<g transform="translate(575.8 349.8) rotate(-90)"><text x="0" y="0" font-size="10" text-anchor="middle"><tspan font-style="italic">H</tspan><tspan font-size="6" dy="2.5">max</tspan><tspan dy="-2.5" font-size="10">&#8203;</tspan>/<tspan font-style="italic">D</tspan><tspan font-size="6" dy="2.5">0</tspan><tspan dy="-2.5" font-size="10">&#8203;</tspan></text></g>
<rect x="604.3" y="312.8" width="3.8" height="3.8" fill="none" stroke="#2a62c0" stroke-width="1.1"/>
<circle cx="606.48" cy="367.9" r="2.5" fill="none" stroke="#e01e24" stroke-width="1.35"/>
<circle cx="607.87" cy="367.9" r="2.5" fill="none" stroke="#e01e24" stroke-width="1.35"/>
<circle cx="609.54" cy="368" r="2.5" fill="none" stroke="#e01e24" stroke-width="1.35"/>
<circle cx="632.12" cy="368.6" r="2.5" fill="none" stroke="#e01e24" stroke-width="1.35"/>
<circle cx="675.59" cy="369.1" r="2.5" fill="none" stroke="#e01e24" stroke-width="1.35"/>
<circle cx="777.58" cy="369.9" r="2.5" fill="none" stroke="#e01e24" stroke-width="1.35"/>
<rect x="726.3" y="314.4" width="3.8" height="3.8" fill="none" stroke="#2a62c0" stroke-width="1.1"/>
<circle cx="728.2" cy="328.7" r="2.5" fill="none" stroke="#e01e24" stroke-width="1.35"/>
<text x="742.9" y="319.3" font-size="9" text-anchor="start" >Water</text>
<text x="742.9" y="331.8" font-size="9" text-anchor="start" >100 mPa s</text>
<text x="725.2" y="346.4" font-size="8" text-anchor="start" ><tspan font-style="italic">U</tspan><tspan font-size="4.8" dy="2">i</tspan><tspan dy="-2" font-size="8">&#8203;</tspan> = 0.8 m s<tspan font-size="4.8" dy="-3.04">-1</tspan><tspan dy="3.04" font-size="8">&#8203;</tspan></text>
<text x="725.2" y="355.4" font-size="8" text-anchor="start" ><tspan font-style="italic">D</tspan><tspan font-size="4.8" dy="2">0</tspan><tspan dy="-2" font-size="8">&#8203;</tspan> = 2.0 mm</text>
<text x="607.7" y="346.3" font-size="8" text-anchor="start" ><tspan font-style="italic">c</tspan> = 333 nm</text>
<path d="M606.2 364.5 L606.2 349.1 L651.7 349.1" fill="none" stroke="#222" stroke-width="0.9"/>
<path d="M604.6 360.8 L606.2 364.8 L607.8 360.8Z" fill="#222"/>
</svg>
</body></html>
